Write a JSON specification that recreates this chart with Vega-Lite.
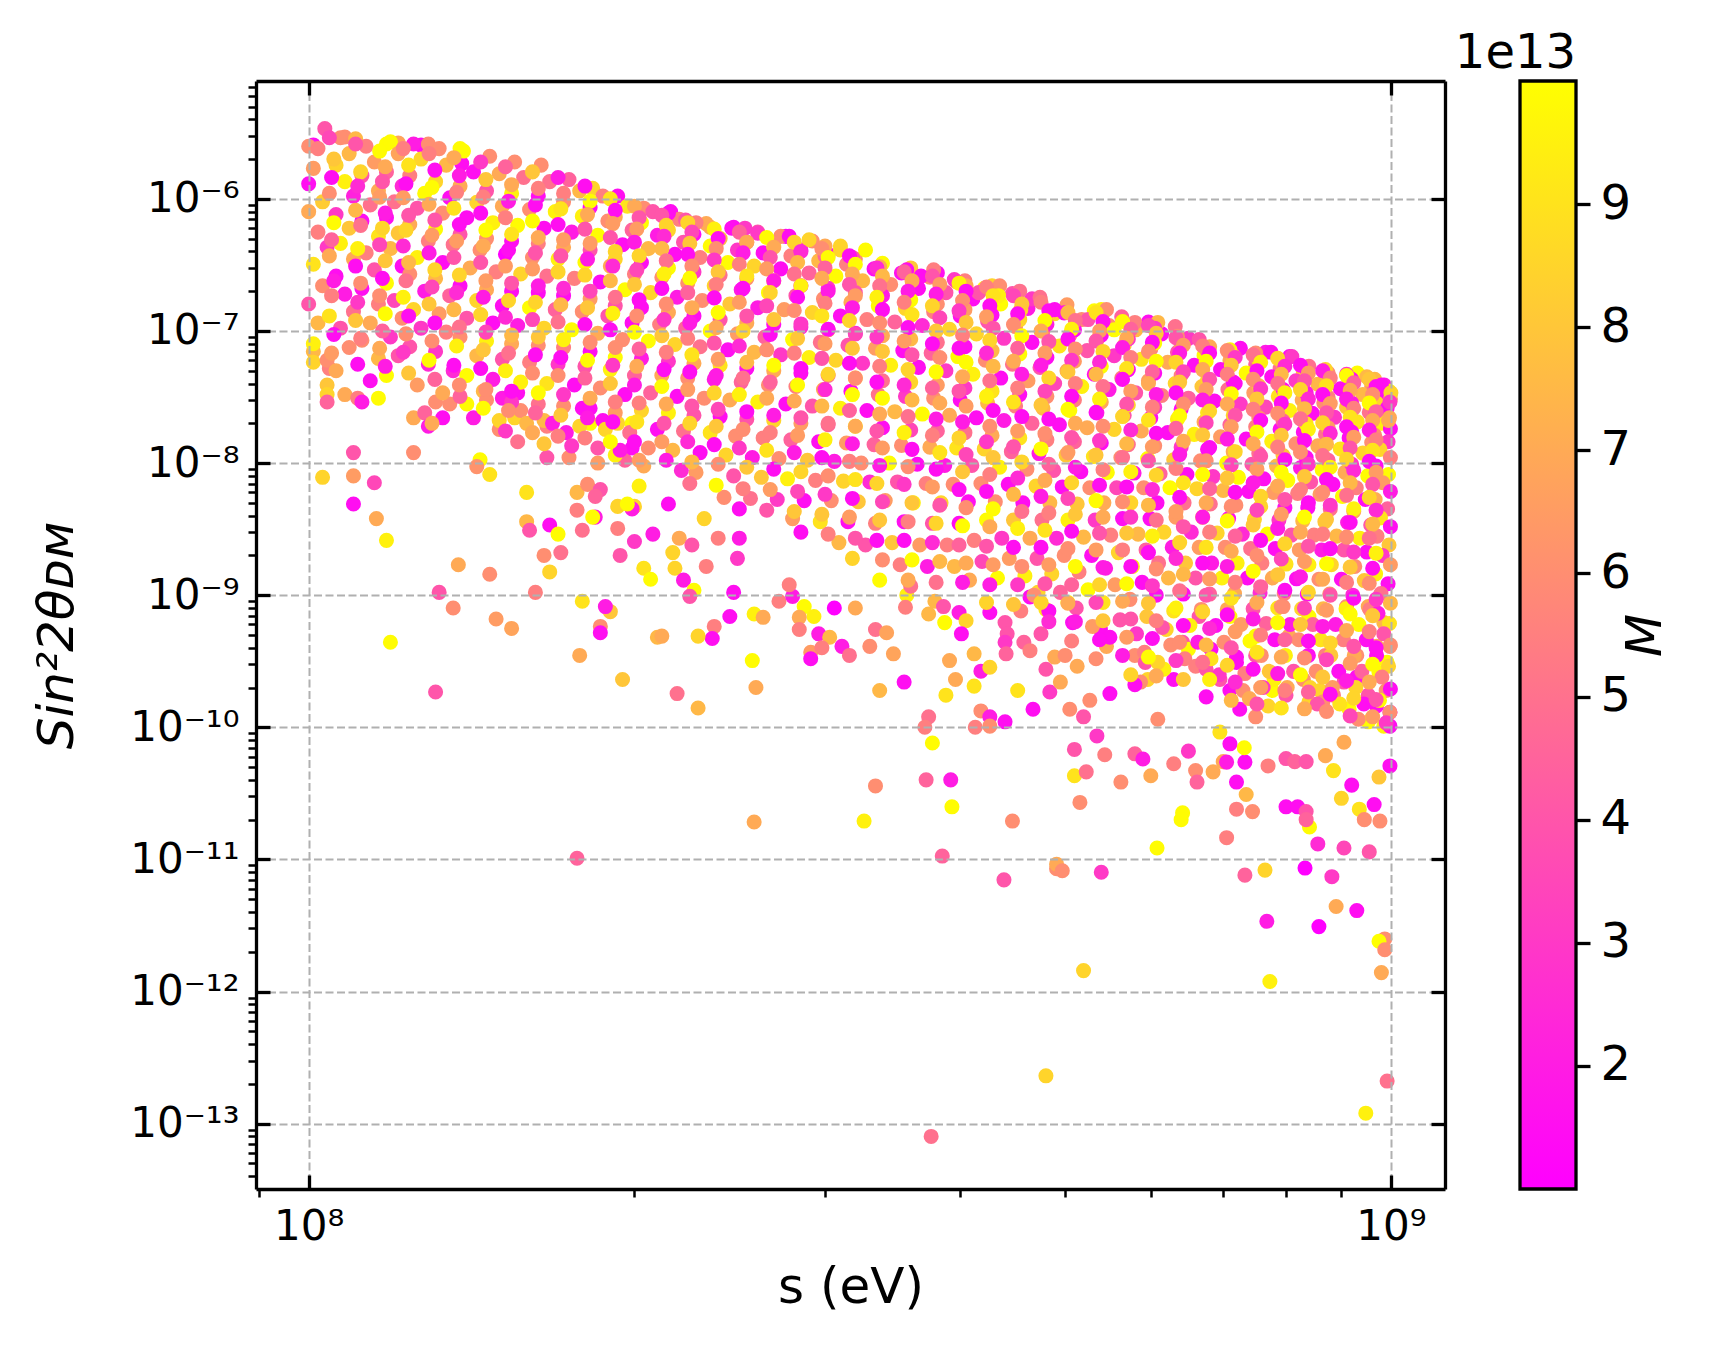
{
  "$schema": "https://vega.github.io/schema/vega-lite/v6.json",
  "background": "white",
  "padding": {"left": 32, "top": 30, "right": 5, "bottom": 5},
  "bounds": "flush",
  "spacing": 75,
  "data": {"values": [
    {"s":1.03e8,"t":7.8e-9,"M":8.5e13},{"s":1.1e8,"t":8e-9,"M":6.5e13},{"s":1.15e8,"t":7.1e-9,"M":3.5e13},{"s":1.1e8,"t":4.9e-9,"M":1.5e13},
    {"s":1.155e8,"t":3.8e-9,"M":7e13},{"s":1.18e8,"t":2.6e-9,"M":9.5e13},{"s":1.375e8,"t":1.7e-9,"M":7e13},{"s":1.47e8,"t":1.44e-9,"M":6e13},
    {"s":1.32e8,"t":1.05e-9,"M":4e13},{"s":1.62e8,"t":1.05e-9,"M":5.5e13},{"s":1.36e8,"t":8e-10,"M":6e13},{"s":1.49e8,"t":6.6e-10,"M":6.5e13},
    {"s":1.54e8,"t":5.6e-10,"M":6.8e13},{"s":1.19e8,"t":4.4e-10,"M":9.9e13},{"s":1.31e8,"t":1.85e-10,"M":4e13},{"s":1.79e8,"t":9e-10,"M":9e13},
    {"s":1.9e8,"t":7.5e-10,"M":8e13},{"s":1.88e8,"t":8.2e-10,"M":2e13},{"s":1.86e8,"t":5.8e-10,"M":6e13},{"s":1.86e8,"t":5.2e-10,"M":1.5e13},
    {"s":1.78e8,"t":3.5e-10,"M":7e13},{"s":1.95e8,"t":2.3e-10,"M":8e13},{"s":2.1e8,"t":4.8e-10,"M":7.5e13},{"s":1.44e8,"t":1.06e-8,"M":9.9e13},
    {"s":1.43e8,"t":9.4e-9,"M":6.2e13},{"s":1.47e8,"t":8.2e-9,"M":9e13},{"s":1.59e8,"t":6e-9,"M":9e13},{"s":1.59e8,"t":3.6e-9,"M":7.5e13},
    {"s":1.6e8,"t":3.1e-9,"M":4e13},{"s":1.67e8,"t":3.4e-9,"M":1.5e13},{"s":1.7e8,"t":2.9e-9,"M":9.9e13},{"s":1.65e8,"t":2e-9,"M":6e13},
    {"s":1.71e8,"t":2.1e-9,"M":5e13},{"s":1.67e8,"t":1.5e-9,"M":8.5e13},{"s":1.77e8,"t":6e-9,"M":7.5e13},{"s":1.81e8,"t":6.9e-9,"M":6e13},
    {"s":1.86e8,"t":6.3e-9,"M":4e13},{"s":1.84e8,"t":5.6e-9,"M":4.5e13},{"s":1.77e8,"t":4.4e-9,"M":5.5e13},{"s":1.84e8,"t":3.9e-9,"M":2e13},
    {"s":1.83e8,"t":3.9e-9,"M":9.9e13},{"s":1.79e8,"t":3.1e-9,"M":5e13},{"s":1.93e8,"t":3.2e-9,"M":5.5e13},{"s":1.94e8,"t":2e-9,"M":4e13},
    {"s":2e8,"t":2.55e-9,"M":3e13},{"s":1.93e8,"t":4.7e-9,"M":8.5e13},{"s":2e8,"t":4.7e-9,"M":8.5e13},{"s":1.99e8,"t":4.5e-9,"M":2e13},
    {"s":1.97e8,"t":4.9e-9,"M":9.9e13},{"s":2.02e8,"t":6.7e-9,"M":9.5e13},{"s":2.04e8,"t":1.6e-9,"M":9e13},{"s":2.07e8,"t":1.32e-9,"M":9.9e13},
    {"s":2.08e8,"t":2.9e-9,"M":2e13},{"s":1.74e8,"t":1.1e-8,"M":6e13},{"s":1.66e8,"t":1.1e-8,"M":4e13},{"s":1.85e8,"t":1e-8,"M":6.5e13},
    {"s":1.96e8,"t":1.05e-8,"M":4.5e13},{"s":1.92e8,"t":1.15e-8,"M":9.5e13},{"s":1.1e8,"t":1.2e-8,"M":4e13},{"s":1.25e8,"t":1.2e-8,"M":6e13},
    {"s":1.77e8,"t":1.02e-11,"M":4.5e13},
    {"s":2.15e8,"t":4.9e-9,"M":1.5e13},{"s":2.32e8,"t":3.8e-9,"M":8.5e13},{"s":2.2e8,"t":2.7e-9,"M":7e13},{"s":2.26e8,"t":2.4e-9,"M":4e13},
    {"s":2.17e8,"t":2.1e-9,"M":8.5e13},{"s":2.18e8,"t":1.6e-9,"M":8.5e13},{"s":2.33e8,"t":1.65e-9,"M":5.5e13},{"s":2.22e8,"t":1.3e-9,"M":2e13},
    {"s":2.27e8,"t":1.09e-9,"M":9.9e13},{"s":2.25e8,"t":9.8e-10,"M":4e13},{"s":2.39e8,"t":2.7e-9,"M":5.5e13},{"s":2.5e8,"t":2.7e-9,"M":2e13},
    {"s":2.49e8,"t":1.9e-9,"M":3e13},{"s":2.47e8,"t":1.05e-9,"M":1.5e13},{"s":2.45e8,"t":6.9e-10,"M":1.5e13},{"s":2.37e8,"t":5.8e-10,"M":5.5e13},
    {"s":2.36e8,"t":4.7e-10,"M":1.5e13},{"s":2.29e8,"t":4.9e-10,"M":8.5e13},{"s":2.12e8,"t":4.9e-10,"M":7e13},{"s":2.58e8,"t":7.2e-10,"M":9.5e13},
    {"s":2.63e8,"t":6.8e-10,"M":7e13},{"s":2.57e8,"t":3.2e-10,"M":9.9e13},{"s":2.59e8,"t":2e-10,"M":7e13},{"s":2.19e8,"t":1.8e-10,"M":5e13},
    {"s":2.29e8,"t":1.4e-10,"M":7.5e13},{"s":2.72e8,"t":9e-10,"M":5.5e13},{"s":2.8e8,"t":9.8e-10,"M":2e13},{"s":2.78e8,"t":1.2e-9,"M":5.5e13},
    {"s":2.87e8,"t":8.2e-10,"M":9.9e13},{"s":2.93e8,"t":6.9e-10,"M":9.5e13},{"s":2.84e8,"t":6.8e-10,"M":7e13},{"s":2.84e8,"t":5.5e-10,"M":5.5e13},
    {"s":3.06e8,"t":8e-10,"M":1e13},{"s":2.96e8,"t":5.1e-10,"M":2e13},{"s":3.03e8,"t":4.8e-10,"M":7.5e13},{"s":2.91e8,"t":3.7e-10,"M":6.5e13},
    {"s":2.91e8,"t":3.3e-10,"M":1.5e13},{"s":2.98e8,"t":4e-10,"M":5.5e13},{"s":3.11e8,"t":4.1e-10,"M":2e13},{"s":3.16e8,"t":3.5e-10,"M":5e13},
    {"s":3.2e8,"t":8e-10,"M":7e13},{"s":3.34e8,"t":5.5e-10,"M":5e13},{"s":3.3e8,"t":4.1e-10,"M":6e13},{"s":3.42e8,"t":5.2e-10,"M":6.8e13},
    {"s":3.47e8,"t":3.6e-10,"M":6.8e13},{"s":3.37e8,"t":1.9e-10,"M":7.5e13},{"s":3.55e8,"t":2.2e-10,"M":1.5e13},{"s":3.57e8,"t":1e-9,"M":9.5e13},
    {"s":3.6e8,"t":1.17e-9,"M":5e13},{"s":3.56e8,"t":8.1e-10,"M":5.5e13},{"s":3.74e8,"t":7.2e-10,"M":7.5e13},{"s":3.79e8,"t":9e-10,"M":7.5e13},
    {"s":3.87e8,"t":6.2e-10,"M":9.9e13},{"s":3.86e8,"t":8.2e-10,"M":4e13},{"s":3.99e8,"t":7.4e-10,"M":2e13},{"s":4.05e8,"t":6.4e-10,"M":8.5e13},
    {"s":4.01e8,"t":5.1e-10,"M":1.5e13},{"s":3.91e8,"t":3.2e-10,"M":7e13},{"s":3.96e8,"t":2.3e-10,"M":7e13},{"s":4.12e8,"t":3.6e-10,"M":7.5e13},
    {"s":4.18e8,"t":2.66e-10,"M":2e13},{"s":4.26e8,"t":2.85e-10,"M":8.5e13},{"s":3.88e8,"t":1.75e-10,"M":9e13},{"s":4.12e8,"t":2.05e-10,"M":9e13},
    {"s":3.74e8,"t":1.2e-10,"M":5e13},{"s":3.71e8,"t":1e-10,"M":5.5e13},{"s":3.77e8,"t":7.6e-11,"M":9.9e13},{"s":3.72e8,"t":4e-11,"M":4.5e13},
    {"s":3.92e8,"t":4e-11,"M":2e13},{"s":3.93e8,"t":2.5e-11,"M":9.9e13},{"s":3.34e8,"t":3.6e-11,"M":6e13},{"s":4.18e8,"t":1.33e-10,"M":6e13},
    {"s":4.26e8,"t":1.2e-10,"M":2e13},{"s":4.4e8,"t":1.1e-10,"M":1.5e13},{"s":4.13e8,"t":1e-10,"M":5.5e13},{"s":4.26e8,"t":1.02e-10,"M":6e13},
    {"s":4.26e8,"t":7.4e-10,"M":1.5e13},{"s":4.4e8,"t":6.2e-10,"M":4e13},{"s":4.42e8,"t":5.1e-10,"M":4e13},{"s":4.4e8,"t":4.4e-10,"M":3e13},
    {"s":4.41e8,"t":3.6e-10,"M":4.5e13},{"s":4.58e8,"t":4.4e-10,"M":4.5e13},{"s":4.64e8,"t":3.8e-10,"M":5.5e13},{"s":4.55e8,"t":7.6e-10,"M":5.5e13},
    {"s":4.75e8,"t":5.1e-10,"M":4e13},{"s":4.8e8,"t":7.8e-10,"M":9e13},{"s":4.72e8,"t":1.05e-9,"M":8.5e13},{"s":4.64e8,"t":9.7e-10,"M":1.5e13},
    {"s":4.8e8,"t":2.75e-10,"M":4e13},{"s":4.89e8,"t":3.4e-10,"M":7e13},{"s":4.52e8,"t":1.9e-10,"M":9e13},{"s":4.67e8,"t":1.37e-10,"M":1.5e13},
    {"s":4.84e8,"t":1.85e-10,"M":3e13},{"s":4.47e8,"t":1.95e-11,"M":6e13},{"s":3.26e8,"t":1.95e-11,"M":9.5e13},{"s":2.58e8,"t":1.92e-11,"M":7e13},
    {"s":3.85e8,"t":1.06e-11,"M":4.5e13},{"s":4.39e8,"t":7e-12,"M":4e13},{"s":4.91e8,"t":8.5e-12,"M":6e13},{"s":4.91e8,"t":9.2e-12,"M":7e13},
    {"s":4.8e8,"t":2.3e-13,"M":8.5e13},{"s":3.76e8,"t":8e-14,"M":5e13},
    {"s":5.35e8,"t":8.6e-11,"M":3e13},{"s":5.1e8,"t":6.8e-11,"M":4e13},{"s":5.44e8,"t":6.2e-11,"M":5.5e13},{"s":5.1e8,"t":4.3e-11,"M":9e13},
    {"s":5.23e8,"t":4.6e-11,"M":5e13},{"s":5.63e8,"t":3.85e-11,"M":6e13},{"s":5.16e8,"t":2.7e-11,"M":6e13},{"s":5.8e8,"t":6.3e-11,"M":4.5e13},
    {"s":5.9e8,"t":5.75e-11,"M":2e13},{"s":6e8,"t":4.3e-11,"M":7e13},{"s":6.09e8,"t":1.15e-10,"M":6e13},{"s":6.3e8,"t":5.3e-11,"M":5.5e13},
    {"s":6.5e8,"t":6.6e-11,"M":3e13},{"s":6.6e8,"t":4.7e-11,"M":6e13},{"s":6.62e8,"t":3.85e-11,"M":4.5e13},{"s":6.85e8,"t":4.6e-11,"M":7e13},
    {"s":7e8,"t":5.5e-11,"M":7e13},{"s":7.05e8,"t":5.45e-11,"M":2e13},{"s":6.42e8,"t":2.25e-11,"M":9.9e13},{"s":7.2e8,"t":3.85e-11,"M":1.5e13},
    {"s":7.35e8,"t":3.1e-11,"M":7.5e13},{"s":7.33e8,"t":5.45e-11,"M":1.5e13},{"s":7.32e8,"t":7e-11,"M":9.9e13},{"s":7.1e8,"t":7.5e-11,"M":1.5e13},
    {"s":6.95e8,"t":9.2e-11,"M":9e13},{"s":7.2e8,"t":2.4e-11,"M":5.5e13},{"s":7.45e8,"t":2.3e-11,"M":6e13},{"s":7.7e8,"t":5.1e-11,"M":5.5e13},
    {"s":8e8,"t":5.8e-11,"M":4e13},{"s":8.15e8,"t":5.5e-11,"M":4.5e13},{"s":8.35e8,"t":5.5e-11,"M":4e13},{"s":8e8,"t":2.5e-11,"M":1.5e13},
    {"s":8.2e8,"t":2.5e-11,"M":1.5e13},{"s":8.35e8,"t":2.3e-11,"M":4e13},{"s":8.7e8,"t":6.1e-11,"M":7e13},{"s":8.85e8,"t":4.7e-11,"M":9e13},
    {"s":9e8,"t":2.9e-11,"M":8.5e13},{"s":9.2e8,"t":3.65e-11,"M":1.5e13},{"s":9.35e8,"t":2.4e-11,"M":9e13},{"s":9.65e8,"t":2.6e-11,"M":1.5e13},
    {"s":9.75e8,"t":4.2e-11,"M":8e13},{"s":9.98e8,"t":5.1e-11,"M":1.5e13},{"s":9.05e8,"t":7.7e-11,"M":7e13},{"s":9.85e8,"t":1.02e-10,"M":9.5e13},
    {"s":6.4e8,"t":2e-11,"M":9.9e13},{"s":7.05e8,"t":1.46e-11,"M":5.5e13},{"s":6.08e8,"t":1.22e-11,"M":9.9e13},{"s":4.97e8,"t":8.2e-12,"M":6e13},
    {"s":5.4e8,"t":8e-12,"M":3e13},{"s":7.33e8,"t":7.6e-12,"M":4.5e13},{"s":7.65e8,"t":8.3e-12,"M":8.5e13},{"s":8.33e8,"t":8.6e-12,"M":1e13},
    {"s":8.82e8,"t":7.4e-12,"M":3e13},{"s":8.41e8,"t":1.76e-11,"M":9.9e13},{"s":8.56e8,"t":1.31e-11,"M":2.5e13},{"s":9.05e8,"t":1.22e-11,"M":3.5e13},
    {"s":9.55e8,"t":1.14e-11,"M":4e13},{"s":9.45e8,"t":2e-11,"M":6e13},{"s":9.77e8,"t":1.95e-11,"M":6e13},{"s":8.35e8,"t":2e-11,"M":4.5e13},
    {"s":8.9e8,"t":4.4e-12,"M":7e13},{"s":9.3e8,"t":4.1e-12,"M":1.5e13},{"s":7.68e8,"t":3.4e-12,"M":2e13},{"s":8.58e8,"t":3.1e-12,"M":1e13},
    {"s":9.87e8,"t":2.5e-12,"M":6e13},{"s":9.75e8,"t":2.4e-12,"M":1e14},{"s":9.87e8,"t":2.07e-12,"M":6e13},{"s":9.8e8,"t":1.39e-12,"M":7e13},
    {"s":5.2e8,"t":1.44e-12,"M":8.5e13},{"s":7.73e8,"t":1.19e-12,"M":9.5e13},{"s":9.92e8,"t":2.1e-13,"M":5e13},{"s":9.48e8,"t":1.2e-13,"M":9.5e13},
    {"s":5.03e8,"t":8.8e-10,"M":9.9e13},{"s":5.08e8,"t":6.2e-10,"M":1.5e13},{"s":5.39e8,"t":5.5e-10,"M":1.5e13},{"s":5.46e8,"t":4.1e-10,"M":7e13},
    {"s":5.8e8,"t":3.5e-10,"M":6e13},{"s":5.93e8,"t":3.1e-10,"M":4e13},{"s":6.2e8,"t":5.5e-10,"M":8.5e13},{"s":6.42e8,"t":4.4e-10,"M":4e13},
    {"s":6.5e8,"t":3.9e-10,"M":9.9e13},{"s":6.6e8,"t":2.9e-10,"M":5.5e13},{"s":6.75e8,"t":2.75e-10,"M":4e13},{"s":6.3e8,"t":2.3e-10,"M":1.5e13},
    {"s":6.17e8,"t":2.75e-10,"M":9.5e13},{"s":5.96e8,"t":2.3e-10,"M":8.5e13},{"s":5.87e8,"t":2.2e-10,"M":6e13},{"s":5.8e8,"t":2.1e-10,"M":1.5e13},
    {"s":5.5e8,"t":1.8e-10,"M":1.5e13},{"s":5.27e8,"t":1.6e-10,"M":6e13},{"s":5.05e8,"t":1.37e-10,"M":6e13},{"s":5.2e8,"t":1.2e-10,"M":4e13},
    {"s":4.95e8,"t":2.2e-10,"M":7e13},{"s":5e8,"t":3.5e-10,"M":6e13},{"s":5.13e8,"t":2.9e-10,"M":7e13},{"s":6.82e8,"t":3.9e-10,"M":1.5e13},
    {"s":6.95e8,"t":2.3e-10,"M":4e13},{"s":7.1e8,"t":1.9e-10,"M":1.5e13},{"s":7.3e8,"t":1.9e-10,"M":6e13},{"s":7.25e8,"t":1.37e-10,"M":1.5e13},
    {"s":7.4e8,"t":1.65e-10,"M":7e13},{"s":7.5e8,"t":1.2e-10,"M":6e13},{"s":7.7e8,"t":1.45e-10,"M":8.5e13},{"s":7.77e8,"t":1.9e-10,"M":9.9e13},
    {"s":7.8e8,"t":2.3e-10,"M":9.5e13},{"s":8e8,"t":1.75e-10,"M":4e13},{"s":8.3e8,"t":2.3e-10,"M":6e13},{"s":8.4e8,"t":1.55e-10,"M":8.5e13},
    {"s":8.6e8,"t":1.9e-10,"M":8.5e13},{"s":8.65e8,"t":1.55e-10,"M":6e13},{"s":8.85e8,"t":1.75e-10,"M":5.5e13},{"s":9.05e8,"t":2.2e-10,"M":4e13},
    {"s":9.15e8,"t":1.37e-10,"M":9.9e13},{"s":9.3e8,"t":2.4e-10,"M":1.5e13},{"s":9.53e8,"t":1.75e-10,"M":4e13},{"s":9.7e8,"t":1.45e-10,"M":1.5e13},
    {"s":9.75e8,"t":2.6e-10,"M":9.9e13},{"s":9.9e8,"t":1.9e-10,"M":6e13},{"s":9.98e8,"t":1.3e-10,"M":1.5e13},{"s":9.98e8,"t":1.02e-10,"M":1.5e13},
    {"s":9.53e8,"t":1.1e-10,"M":9.9e13},{"s":9.3e8,"t":3.5e-10,"M":6e13},{"s":8.7e8,"t":3.5e-10,"M":5.5e13},{"s":8.05e8,"t":4.9e-10,"M":7e13},
    {"s":7.5e8,"t":4.9e-10,"M":9.9e13},{"s":7.2e8,"t":3.1e-10,"M":1.5e13},{"s":7.5e8,"t":3.5e-10,"M":4e13},{"s":7.1e8,"t":6.9e-10,"M":9.9e13},
    {"s":6.65e8,"t":6.9e-10,"M":4e13},{"s":7.95e8,"t":8.2e-10,"M":6e13},{"s":8.4e8,"t":6.9e-10,"M":9.9e13},{"s":9.1e8,"t":8.2e-10,"M":6e13},
    {"s":9.53e8,"t":8.2e-10,"M":7e13},{"s":9.85e8,"t":6.2e-10,"M":7.5e13},{"s":9.7e8,"t":4.1e-10,"M":7e13},{"s":9.98e8,"t":4.1e-10,"M":6e13},
    {"s":9.92e8,"t":3.1e-10,"M":9.9e13},
    {"s":1.01e8,"t":7e-8,"M":7.5e13},{"s":1.01e8,"t":5.8e-8,"M":8.5e13},{"s":1.045e8,"t":5.2e-8,"M":5.5e13},{"s":1.04e8,"t":3.9e-8,"M":8e13},
    {"s":1.04e8,"t":3.3e-8,"M":8.5e13},{"s":1.04e8,"t":2.9e-8,"M":4.5e13},{"s":1.08e8,"t":3.3e-8,"M":7e13},{"s":1.11e8,"t":3.1e-8,"M":5.5e13},
    {"s":1.12e8,"t":2.9e-8,"M":2e13},{"s":1.16e8,"t":3.1e-8,"M":9.9e13},{"s":1.25e8,"t":2.2e-8,"M":7e13},{"s":1.28e8,"t":2.4e-8,"M":4.5e13},
    {"s":1.29e8,"t":1.9e-8,"M":2e13},{"s":1.31e8,"t":2.9e-8,"M":6e13},{"s":1.35e8,"t":2.8e-8,"M":6e13},{"s":1.33e8,"t":2.2e-8,"M":1.5e13},
    {"s":1.3e8,"t":2e-8,"M":7e13},{"s":1.4e8,"t":2.8e-8,"M":9.9e13},{"s":1.45e8,"t":3.5e-8,"M":7.5e13},{"s":1.5e8,"t":1.8e-8,"M":6e13},
    {"s":1.51e8,"t":3.1e-8,"M":2e13},{"s":1.55e8,"t":2.2e-8,"M":8.5e13},{"s":1.57e8,"t":2.5e-8,"M":6e13},{"s":1.56e8,"t":3.4e-8,"M":1.5e13},
    {"s":1.66e8,"t":1.9e-8,"M":5.5e13},{"s":1.65e8,"t":2.1e-8,"M":7.5e13},{"s":1.73e8,"t":1.7e-8,"M":2e13},{"s":1.79e8,"t":2.6e-8,"M":1.5e13},
    {"s":1.82e8,"t":2e-8,"M":9.9e13},{"s":1.87e8,"t":2.1e-8,"M":1.5e13},{"s":1.93e8,"t":2e-8,"M":8.5e13},{"s":1.99e8,"t":2e-8,"M":9.9e13},
    {"s":1.99e8,"t":1.3e-8,"M":1.5e13},
    {"s":1.035e8,"t":3.4e-6,"M":4e13},{"s":1.01e8,"t":2.56e-6,"M":1.5e13},{"s":1e8,"t":2.5e-6,"M":6e13},{"s":1.08e8,"t":2.94e-6,"M":6e13},
    {"s":1.105e8,"t":2.85e-6,"M":7.5e13},{"s":1.18e8,"t":2.6e-6,"M":9.9e13},{"s":1.21e8,"t":2.65e-6,"M":6.8e13},{"s":1.27e8,"t":2.55e-6,"M":1.5e13},
    {"s":1.29e8,"t":2.6e-6,"M":6e13},{"s":1.38e8,"t":2.4e-6,"M":9.9e13},{"s":1.385e8,"t":1.85e-6,"M":1.5e13},
    {"s":1e8,"t":1.3e-6,"M":1.5e13},{"s":1.02e8,"t":2.4e-6,"M":5.5e13},{"s":1.01e8,"t":1.7e-6,"M":6.5e13},{"s":1.03e8,"t":9.5e-7,"M":8.2e13},
    {"s":1e8,"t":8e-7,"M":7e13},{"s":1.02e8,"t":5.6e-7,"M":5.5e13},{"s":1.04e8,"t":4.3e-7,"M":3e13},{"s":1.01e8,"t":3.2e-7,"M":9e13},
    {"s":1.03e8,"t":2.2e-7,"M":6e13},{"s":1e8,"t":1.6e-7,"M":4e13},{"s":1.02e8,"t":1.15e-7,"M":7.5e13},{"s":1.01e8,"t":8e-8,"M":9.5e13},
    {"s":1.04e8,"t":6e-8,"M":6e13},
    {"s":1.07e8,"t":2.9e-6,"M":6e13},{"s":1.09e8,"t":2.2e-6,"M":7.5e13},{"s":1.06e8,"t":1.8e-6,"M":8.5e13},{"s":1.08e8,"t":1.35e-6,"M":9.5e13},
    {"s":1.1e8,"t":1.05e-6,"M":2.2e13},{"s":1.06e8,"t":7.6e-7,"M":3e13},{"s":1.09e8,"t":6e-7,"M":8e13},{"s":1.07e8,"t":4.6e-7,"M":9.5e13},
    {"s":1.1e8,"t":3.5e-7,"M":7e13},{"s":1.06e8,"t":2.6e-7,"M":1.5e13},{"s":1.08e8,"t":1.9e-7,"M":2e13},{"s":1.1e8,"t":1.4e-7,"M":5e13},
    {"s":1.07e8,"t":1.05e-7,"M":4e13},{"s":1.09e8,"t":7.5e-8,"M":6e13},{"s":1.06e8,"t":5e-8,"M":7e13},
    {"s":1.13e8,"t":2.5e-6,"M":5.5e13},{"s":1.15e8,"t":1.9e-6,"M":6.5e13},{"s":1.12e8,"t":1.5e-6,"M":4e13},{"s":1.16e8,"t":1.15e-6,"M":7e13},
    {"s":1.14e8,"t":9e-7,"M":5e13},{"s":1.12e8,"t":6.8e-7,"M":1.5e13},{"s":1.16e8,"t":5.2e-7,"M":9e13},{"s":1.13e8,"t":3.9e-7,"M":5.5e13},
    {"s":1.15e8,"t":2.9e-7,"M":4e13},{"s":1.12e8,"t":2.1e-7,"M":1.5e13},{"s":1.16e8,"t":1.6e-7,"M":5.5e13},{"s":1.14e8,"t":1.15e-7,"M":7e13},
    {"s":1.12e8,"t":8.5e-8,"M":6e13},{"s":1.16e8,"t":6.2e-8,"M":7.5e13},{"s":1.14e8,"t":4.2e-8,"M":1.5e13},
    {"s":1.19e8,"t":2.7e-6,"M":9.9e13},{"s":1.21e8,"t":2.2e-6,"M":6.8e13},{"s":1.18e8,"t":1.6e-6,"M":4.5e13},{"s":1.22e8,"t":1.25e-6,"M":2.5e13},
    {"s":1.2e8,"t":9.5e-7,"M":5e13},{"s":1.18e8,"t":7.2e-7,"M":1.5e13},{"s":1.21e8,"t":5.5e-7,"M":8e13},{"s":1.19e8,"t":4.2e-7,"M":7.5e13},
    {"s":1.22e8,"t":3.1e-7,"M":1.5e13},{"s":1.18e8,"t":2.3e-7,"M":9.9e13},{"s":1.2e8,"t":1.7e-7,"M":3.5e13},{"s":1.22e8,"t":1.25e-7,"M":6e13},
    {"s":1.19e8,"t":9e-8,"M":3e13},{"s":1.21e8,"t":6.5e-8,"M":4e13},{"s":1.18e8,"t":4.6e-8,"M":9.9e13},
    {"s":1.25e8,"t":2.6e-6,"M":2e13},{"s":1.27e8,"t":2e-6,"M":8.5e13},{"s":1.24e8,"t":1.5e-6,"M":5.5e13},{"s":1.28e8,"t":1.1e-6,"M":9.9e13},
    {"s":1.26e8,"t":8.5e-7,"M":4e13},{"s":1.24e8,"t":6.4e-7,"M":7e13},{"s":1.29e8,"t":4.8e-7,"M":5.5e13},{"s":1.26e8,"t":3.6e-7,"M":9.5e13},
    {"s":1.24e8,"t":2.7e-7,"M":6e13},{"s":1.28e8,"t":2e-7,"M":2e13},{"s":1.25e8,"t":1.45e-7,"M":8.5e13},{"s":1.27e8,"t":1.05e-7,"M":3e13},
    {"s":1.24e8,"t":7.6e-8,"M":4e13},{"s":1.29e8,"t":5.6e-8,"M":2.5e13},{"s":1.26e8,"t":3.9e-8,"M":6.5e13},
    {"s":1.32e8,"t":2.4e-6,"M":6e13},{"s":1.34e8,"t":1.8e-6,"M":7.5e13},{"s":1.31e8,"t":1.35e-6,"M":8.5e13},{"s":1.35e8,"t":1.02e-6,"M":1.5e13},
    {"s":1.33e8,"t":7.8e-7,"M":6e13},{"s":1.31e8,"t":5.9e-7,"M":9.9e13},{"s":1.36e8,"t":4.5e-7,"M":5e13},{"s":1.33e8,"t":3.3e-7,"M":1.5e13},
    {"s":1.31e8,"t":2.5e-7,"M":7.5e13},{"s":1.35e8,"t":1.85e-7,"M":4.5e13},{"s":1.32e8,"t":1.35e-7,"M":6.5e13},{"s":1.34e8,"t":9.8e-8,"M":5.5e13},
    {"s":1.31e8,"t":7e-8,"M":3e13},{"s":1.36e8,"t":5e-8,"M":2.5e13},{"s":1.33e8,"t":3.4e-8,"M":7e13},
    {"s":1.39e8,"t":2.3e-6,"M":9.9e13},{"s":1.42e8,"t":1.6e-6,"M":1.5e13},{"s":1.38e8,"t":1.25e-6,"M":7e13},{"s":1.43e8,"t":9.4e-7,"M":8.5e13},
    {"s":1.4e8,"t":7.2e-7,"M":1.5e13},{"s":1.38e8,"t":5.4e-7,"M":4e13},{"s":1.44e8,"t":4.1e-7,"M":6e13},{"s":1.41e8,"t":3e-7,"M":7e13},
    {"s":1.38e8,"t":2.2e-7,"M":1.5e13},{"s":1.43e8,"t":1.7e-7,"M":8.5e13},{"s":1.4e8,"t":1.25e-7,"M":4e13},{"s":1.38e8,"t":9e-8,"M":6e13},
    {"s":1.43e8,"t":6.5e-8,"M":7.5e13},{"s":1.4e8,"t":4.6e-8,"M":9.9e13},{"s":1.38e8,"t":3.2e-8,"M":4.5e13},{"s":1.42e8,"t":2.2e-8,"M":2e13},
    {"s":1.47e8,"t":2.1e-6,"M":6e13},{"s":1.5e8,"t":1.55e-6,"M":7e13},{"s":1.46e8,"t":1.15e-6,"M":4e13},{"s":1.51e8,"t":8.8e-7,"M":7e13},
    {"s":1.48e8,"t":6.6e-7,"M":9.5e13},{"s":1.46e8,"t":5e-7,"M":6e13},{"s":1.52e8,"t":3.8e-7,"M":1e13},{"s":1.49e8,"t":2.8e-7,"M":5.5e13},
    {"s":1.46e8,"t":2.05e-7,"M":7e13},{"s":1.51e8,"t":1.55e-7,"M":1.5e13},{"s":1.48e8,"t":1.15e-7,"M":1.5e13},{"s":1.46e8,"t":8.4e-8,"M":9.5e13},
    {"s":1.51e8,"t":6.1e-8,"M":4e13},{"s":1.48e8,"t":4.3e-8,"M":2e13},{"s":1.46e8,"t":3e-8,"M":6e13},{"s":1.5e8,"t":2.1e-8,"M":8.5e13},
    {"s":1.55e8,"t":1.9e-6,"M":6e13},{"s":1.58e8,"t":1.45e-6,"M":5e13},{"s":1.54e8,"t":1.1e-6,"M":9.5e13},{"s":1.6e8,"t":8.3e-7,"M":6e13},
    {"s":1.56e8,"t":6.3e-7,"M":9.9e13},{"s":1.54e8,"t":4.8e-7,"M":1.5e13},{"s":1.61e8,"t":3.6e-7,"M":6e13},{"s":1.57e8,"t":2.7e-7,"M":8.5e13},
    {"s":1.54e8,"t":2e-7,"M":1.5e13},{"s":1.6e8,"t":1.5e-7,"M":9.9e13},{"s":1.56e8,"t":1.1e-7,"M":2e13},{"s":1.54e8,"t":8e-8,"M":7e13},
    {"s":1.6e8,"t":5.8e-8,"M":5.5e13},{"s":1.57e8,"t":4.1e-8,"M":9.5e13},{"s":1.54e8,"t":2.9e-8,"M":3e13},{"s":1.59e8,"t":2e-8,"M":7.5e13},
    {"s":1.56e8,"t":1.45e-8,"M":5e13},
    {"s":1.64e8,"t":1.8e-6,"M":6e13},{"s":1.67e8,"t":1.35e-6,"M":5e13},{"s":1.63e8,"t":1.05e-6,"M":1.5e13},{"s":1.69e8,"t":8e-7,"M":9.5e13},
    {"s":1.65e8,"t":6e-7,"M":1.5e13},{"s":1.63e8,"t":4.6e-7,"M":5.5e13},{"s":1.7e8,"t":3.5e-7,"M":9.5e13},{"s":1.66e8,"t":2.6e-7,"M":5e13},
    {"s":1.63e8,"t":1.95e-7,"M":1.5e13},{"s":1.69e8,"t":1.45e-7,"M":4.5e13},{"s":1.65e8,"t":1.05e-7,"M":8.5e13},{"s":1.63e8,"t":7.8e-8,"M":6e13},
    {"s":1.7e8,"t":5.6e-8,"M":3e13},{"s":1.66e8,"t":4e-8,"M":9e13},{"s":1.63e8,"t":2.8e-8,"M":5e13},{"s":1.68e8,"t":2e-8,"M":2e13},
    {"s":1.65e8,"t":1.4e-8,"M":8e13},
    {"s":1.74e8,"t":1.4e-6,"M":4.5e13},{"s":1.78e8,"t":1.15e-6,"M":7.5e13},{"s":1.72e8,"t":9.5e-7,"M":6e13},{"s":1.79e8,"t":7.4e-7,"M":9.5e13},
    {"s":1.75e8,"t":5.6e-7,"M":2e13},{"s":1.72e8,"t":4.3e-7,"M":7e13},{"s":1.8e8,"t":3.3e-7,"M":9.9e13},{"s":1.76e8,"t":2.5e-7,"M":5.5e13},
    {"s":1.72e8,"t":1.85e-7,"M":1.5e13},{"s":1.79e8,"t":1.4e-7,"M":6e13},{"s":1.75e8,"t":1.02e-7,"M":9.9e13},{"s":1.72e8,"t":7.5e-8,"M":5.5e13},
    {"s":1.8e8,"t":5.4e-8,"M":4e13},{"s":1.76e8,"t":3.9e-8,"M":1.5e13},{"s":1.72e8,"t":2.7e-8,"M":6e13},{"s":1.78e8,"t":1.9e-8,"M":8.5e13},
    {"s":1.75e8,"t":1.35e-8,"M":3e13},
    {"s":1.83e8,"t":1.2e-6,"M":8.5e13},{"s":1.87e8,"t":1.05e-6,"M":5.5e13},{"s":1.82e8,"t":8.6e-7,"M":1.5e13},{"s":1.89e8,"t":6.8e-7,"M":6e13},
    {"s":1.85e8,"t":5.3e-7,"M":9.9e13},{"s":1.82e8,"t":4.1e-7,"M":4e13},{"s":1.9e8,"t":3.1e-7,"M":7e13},{"s":1.86e8,"t":2.35e-7,"M":1.5e13},
    {"s":1.82e8,"t":1.75e-7,"M":6.5e13},{"s":1.89e8,"t":1.3e-7,"M":4e13},{"s":1.85e8,"t":9.6e-8,"M":7e13},{"s":1.82e8,"t":7e-8,"M":1.5e13},
    {"s":1.9e8,"t":5.1e-8,"M":9.5e13},{"s":1.86e8,"t":3.7e-8,"M":6e13},{"s":1.82e8,"t":2.6e-8,"M":1.5e13},{"s":1.88e8,"t":1.8e-8,"M":8.5e13},
    {"s":1.85e8,"t":1.3e-8,"M":4e13},
    {"s":1.93e8,"t":1.05e-6,"M":1.5e13},{"s":1.97e8,"t":8.8e-7,"M":9e13},{"s":1.92e8,"t":7.3e-7,"M":7e13},{"s":1.99e8,"t":5.8e-7,"M":4.5e13},
    {"s":1.95e8,"t":4.5e-7,"M":1.5e13},{"s":1.92e8,"t":3.5e-7,"M":8.5e13},{"s":2e8,"t":2.7e-7,"M":5.5e13},{"s":1.96e8,"t":2.05e-7,"M":9.9e13},
    {"s":1.92e8,"t":1.55e-7,"M":4e13},{"s":1.99e8,"t":1.15e-7,"M":1.5e13},{"s":1.95e8,"t":8.6e-8,"M":6e13},{"s":1.92e8,"t":6.3e-8,"M":9.9e13},
    {"s":2e8,"t":4.6e-8,"M":4.5e13},{"s":1.96e8,"t":3.3e-8,"M":1.5e13},{"s":1.92e8,"t":2.4e-8,"M":6.5e13},{"s":1.98e8,"t":1.7e-8,"M":5e13},
    {"s":1.94e8,"t":1.25e-8,"M":2e13},
    {"s":2.04e8,"t":8.5e-7,"M":6e13},{"s":2.08e8,"t":8e-7,"M":4e13},{"s":2.03e8,"t":6.6e-7,"M":9.9e13},{"s":2.1e8,"t":5.3e-7,"M":2e13},
    {"s":2.06e8,"t":4.2e-7,"M":7.5e13},{"s":2.03e8,"t":3.3e-7,"M":1.5e13},{"s":2.12e8,"t":2.55e-7,"M":6e13},{"s":2.07e8,"t":1.95e-7,"M":8.5e13},
    {"s":2.03e8,"t":1.5e-7,"M":1.5e13},{"s":2.11e8,"t":1.12e-7,"M":5.5e13},{"s":2.06e8,"t":8.4e-8,"M":9.9e13},{"s":2.03e8,"t":6.2e-8,"M":2e13},
    {"s":2.12e8,"t":4.6e-8,"M":7e13},{"s":2.07e8,"t":3.4e-8,"M":4.5e13},{"s":2.03e8,"t":2.5e-8,"M":8.5e13},{"s":2.1e8,"t":1.8e-8,"M":1.5e13},
    {"s":2.06e8,"t":1.3e-8,"M":6e13},{"s":2.04e8,"t":9.5e-9,"M":7e13},
    {"s":2.16e8,"t":8e-7,"M":1.5e13},{"s":2.2e8,"t":7e-7,"M":5.5e13},{"s":2.15e8,"t":5.8e-7,"M":8.5e13},{"s":2.22e8,"t":4.7e-7,"M":4e13},
    {"s":2.18e8,"t":3.8e-7,"M":1.5e13},{"s":2.15e8,"t":3e-7,"M":9.9e13},{"s":2.24e8,"t":2.3e-7,"M":6e13},{"s":2.19e8,"t":1.8e-7,"M":2e13},
    {"s":2.15e8,"t":1.38e-7,"M":7e13},{"s":2.23e8,"t":1.05e-7,"M":4.5e13},{"s":2.18e8,"t":7.9e-8,"M":8.5e13},{"s":2.15e8,"t":5.9e-8,"M":3e13},
    {"s":2.24e8,"t":4.4e-8,"M":6e13},{"s":2.19e8,"t":3.2e-8,"M":1.5e13},{"s":2.15e8,"t":2.4e-8,"M":9.5e13},{"s":2.22e8,"t":1.75e-8,"M":5e13},
    {"s":2.17e8,"t":1.25e-8,"M":7.5e13},{"s":2.21e8,"t":8.8e-9,"M":2.5e13},
    {"s":2.33e8,"t":6.5e-7,"M":7e13},{"s":2.27e8,"t":5.4e-7,"M":1.5e13},{"s":2.35e8,"t":4.4e-7,"M":9.9e13},{"s":2.3e8,"t":3.6e-7,"M":5.5e13},
    {"s":2.27e8,"t":2.8e-7,"M":3e13},{"s":2.37e8,"t":2.2e-7,"M":8.5e13},{"s":2.31e8,"t":1.7e-7,"M":6e13},{"s":2.27e8,"t":1.3e-7,"M":1.5e13},
    {"s":2.35e8,"t":1e-7,"M":9.9e13},{"s":2.3e8,"t":7.6e-8,"M":5e13},{"s":2.27e8,"t":5.7e-8,"M":7e13},{"s":2.37e8,"t":4.3e-8,"M":2e13},
    {"s":2.32e8,"t":3.1e-8,"M":6e13},{"s":2.27e8,"t":2.3e-8,"M":4e13},{"s":2.35e8,"t":1.7e-8,"M":9e13},{"s":2.3e8,"t":1.2e-8,"M":1.5e13},
    {"s":2.28e8,"t":8.5e-9,"M":6.5e13},
    {"s":2.46e8,"t":6e-7,"M":1.5e13},{"s":2.4e8,"t":5e-7,"M":7.5e13},{"s":2.49e8,"t":4.1e-7,"M":3e13},{"s":2.44e8,"t":3.3e-7,"M":9.9e13},
    {"s":2.4e8,"t":2.65e-7,"M":5e13},{"s":2.51e8,"t":2.05e-7,"M":2e13},{"s":2.45e8,"t":1.6e-7,"M":8e13},{"s":2.4e8,"t":1.22e-7,"M":4e13},
    {"s":2.49e8,"t":9.5e-8,"M":6.5e13},{"s":2.44e8,"t":7.2e-8,"M":1.5e13},{"s":2.4e8,"t":5.5e-8,"M":9e13},{"s":2.51e8,"t":4.1e-8,"M":4.5e13},
    {"s":2.45e8,"t":3e-8,"M":7e13},{"s":2.4e8,"t":2.25e-8,"M":1.5e13},{"s":2.48e8,"t":1.6e-8,"M":6e13},{"s":2.43e8,"t":1.15e-8,"M":8.5e13},
    {"s":2.47e8,"t":8e-9,"M":4e13},{"s":2.42e8,"t":5.5e-9,"M":6e13},
    {"s":2.6e8,"t":5.6e-7,"M":4e13},{"s":2.54e8,"t":4.7e-7,"M":5.5e13},{"s":2.63e8,"t":3.9e-7,"M":1.5e13},{"s":2.58e8,"t":3.1e-7,"M":8.5e13},
    {"s":2.54e8,"t":2.5e-7,"M":6e13},{"s":2.66e8,"t":1.95e-7,"M":9.9e13},{"s":2.6e8,"t":1.5e-7,"M":2e13},{"s":2.54e8,"t":1.15e-7,"M":7e13},
    {"s":2.64e8,"t":9e-8,"M":4.5e13},{"s":2.58e8,"t":6.9e-8,"M":7.5e13},{"s":2.54e8,"t":5.2e-8,"M":1.5e13},{"s":2.66e8,"t":3.9e-8,"M":6e13},
    {"s":2.6e8,"t":2.9e-8,"M":9.5e13},{"s":2.54e8,"t":2.15e-8,"M":4e13},{"s":2.63e8,"t":1.55e-8,"M":5.5e13},{"s":2.57e8,"t":1.1e-8,"M":2e13},
    {"s":2.62e8,"t":7.8e-9,"M":8e13},{"s":2.56e8,"t":5.4e-9,"M":5e13},
    {"s":2.76e8,"t":5.2e-7,"M":1.5e13},{"s":2.69e8,"t":4.4e-7,"M":9.9e13},{"s":2.79e8,"t":3.7e-7,"M":5.5e13},{"s":2.73e8,"t":2.95e-7,"M":1.5e13},
    {"s":2.69e8,"t":2.4e-7,"M":8.5e13},{"s":2.82e8,"t":1.85e-7,"M":4e13},{"s":2.75e8,"t":1.45e-7,"M":6.5e13},{"s":2.69e8,"t":1.12e-7,"M":1.5e13},
    {"s":2.8e8,"t":8.6e-8,"M":9.9e13},{"s":2.73e8,"t":6.6e-8,"M":3e13},{"s":2.69e8,"t":5e-8,"M":7e13},{"s":2.82e8,"t":3.8e-8,"M":5.5e13},
    {"s":2.76e8,"t":2.8e-8,"M":1.5e13},{"s":2.69e8,"t":2.1e-8,"M":8.5e13},{"s":2.79e8,"t":1.5e-8,"M":4.5e13},{"s":2.72e8,"t":1.08e-8,"M":6e13},
    {"s":2.77e8,"t":7.6e-9,"M":9.5e13},{"s":2.71e8,"t":5.3e-9,"M":3e13},{"s":2.8e8,"t":3.8e-9,"M":6.5e13},
    {"s":2.92e8,"t":4.8e-7,"M":6e13},{"s":2.85e8,"t":4.1e-7,"M":2e13},{"s":2.96e8,"t":3.4e-7,"M":7.5e13},{"s":2.9e8,"t":2.75e-7,"M":4.5e13},
    {"s":2.85e8,"t":2.2e-7,"M":1.5e13},{"s":2.99e8,"t":1.75e-7,"M":6e13},{"s":2.92e8,"t":1.38e-7,"M":8.5e13},{"s":2.85e8,"t":1.07e-7,"M":2.5e13},
    {"s":2.97e8,"t":8.2e-8,"M":5e13},{"s":2.9e8,"t":6.3e-8,"M":9.5e13},{"s":2.85e8,"t":4.8e-8,"M":1.5e13},{"s":2.99e8,"t":3.6e-8,"M":7e13},
    {"s":2.92e8,"t":2.7e-8,"M":4e13},{"s":2.85e8,"t":2e-8,"M":6.5e13},{"s":2.96e8,"t":1.45e-8,"M":1.5e13},{"s":2.89e8,"t":1.05e-8,"M":8e13},
    {"s":2.94e8,"t":7.4e-9,"M":5.5e13},{"s":2.87e8,"t":5.2e-9,"M":1.5e13},{"s":2.97e8,"t":3.6e-9,"M":9e13},
    {"s":3.1e8,"t":4.4e-7,"M":8.5e13},{"s":3.02e8,"t":3.8e-7,"M":1.5e13},{"s":3.14e8,"t":3.2e-7,"M":5.5e13},{"s":3.07e8,"t":2.6e-7,"M":9.9e13},
    {"s":3.02e8,"t":2.1e-7,"M":3e13},{"s":3.17e8,"t":1.65e-7,"M":7e13},{"s":3.1e8,"t":1.3e-7,"M":1.5e13},{"s":3.02e8,"t":1.02e-7,"M":6e13},
    {"s":3.15e8,"t":7.8e-8,"M":4e13},{"s":3.07e8,"t":6e-8,"M":8.5e13},{"s":3.02e8,"t":4.6e-8,"M":5e13},{"s":3.17e8,"t":3.5e-8,"M":1.5e13},
    {"s":3.1e8,"t":2.6e-8,"M":9.5e13},{"s":3.02e8,"t":1.95e-8,"M":4.5e13},{"s":3.14e8,"t":1.42e-8,"M":6.5e13},{"s":3.06e8,"t":1.03e-8,"M":2e13},
    {"s":3.12e8,"t":7.3e-9,"M":8.5e13},{"s":3.04e8,"t":5.2e-9,"M":6e13},{"s":3.15e8,"t":3.6e-9,"M":1.5e13},{"s":3.09e8,"t":2.5e-9,"M":7.5e13},
    {"s":3.2e8,"t":3.5e-7,"M":6e13},{"s":3.33e8,"t":2.95e-7,"M":1.5e13},{"s":3.25e8,"t":2.4e-7,"M":7.5e13},{"s":3.2e8,"t":1.95e-7,"M":4e13},
    {"s":3.36e8,"t":1.55e-7,"M":9.9e13},{"s":3.28e8,"t":1.22e-7,"M":5.5e13},{"s":3.2e8,"t":9.6e-8,"M":1.5e13},{"s":3.34e8,"t":7.4e-8,"M":6.5e13},
    {"s":3.25e8,"t":5.7e-8,"M":3e13},{"s":3.2e8,"t":4.4e-8,"M":8.5e13},{"s":3.36e8,"t":3.3e-8,"M":5e13},{"s":3.28e8,"t":2.5e-8,"M":1.5e13},
    {"s":3.2e8,"t":1.9e-8,"M":9.9e13},{"s":3.33e8,"t":1.38e-8,"M":4.5e13},{"s":3.24e8,"t":1e-8,"M":6e13},{"s":3.3e8,"t":7.2e-9,"M":2.5e13},
    {"s":3.22e8,"t":5.1e-9,"M":8e13},{"s":3.34e8,"t":3.5e-9,"M":5.5e13},{"s":3.27e8,"t":2.4e-9,"M":4e13},
    {"s":3.39e8,"t":3.25e-7,"M":9.9e13},{"s":3.53e8,"t":2.75e-7,"M":1.5e13},{"s":3.45e8,"t":2.25e-7,"M":6e13},{"s":3.39e8,"t":1.85e-7,"M":2e13},
    {"s":3.56e8,"t":1.48e-7,"M":8.5e13},{"s":3.48e8,"t":1.17e-7,"M":4.5e13},{"s":3.39e8,"t":9.2e-8,"M":7e13},{"s":3.54e8,"t":7.1e-8,"M":1.5e13},
    {"s":3.45e8,"t":5.5e-8,"M":9.5e13},{"s":3.39e8,"t":4.2e-8,"M":5e13},{"s":3.56e8,"t":3.2e-8,"M":3e13},{"s":3.48e8,"t":2.45e-8,"M":7.5e13},
    {"s":3.39e8,"t":1.85e-8,"M":1.5e13},{"s":3.53e8,"t":1.36e-8,"M":6e13},{"s":3.44e8,"t":1e-8,"M":9.9e13},{"s":3.5e8,"t":7.2e-9,"M":4e13},
    {"s":3.41e8,"t":5.2e-9,"M":6.5e13},{"s":3.55e8,"t":3.6e-9,"M":1.5e13},{"s":3.46e8,"t":2.5e-9,"M":8e13},{"s":3.52e8,"t":1.7e-9,"M":5.5e13},
    {"s":3.6e8,"t":3e-7,"M":8e13},{"s":3.75e8,"t":2.55e-7,"M":6e13},{"s":3.66e8,"t":2.1e-7,"M":1.5e13},{"s":3.6e8,"t":1.72e-7,"M":9.9e13},
    {"s":3.78e8,"t":1.4e-7,"M":5.5e13},{"s":3.69e8,"t":1.1e-7,"M":2.5e13},{"s":3.6e8,"t":8.7e-8,"M":7.5e13},{"s":3.76e8,"t":6.8e-8,"M":4.5e13},
    {"s":3.66e8,"t":5.3e-8,"M":1.5e13},{"s":3.6e8,"t":4.1e-8,"M":8.5e13},{"s":3.78e8,"t":3.1e-8,"M":6e13},{"s":3.69e8,"t":2.35e-8,"M":9.9e13},
    {"s":3.6e8,"t":1.78e-8,"M":3.5e13},{"s":3.75e8,"t":1.32e-8,"M":7e13},{"s":3.65e8,"t":9.8e-9,"M":1.5e13},{"s":3.72e8,"t":7e-9,"M":5.5e13},
    {"s":3.62e8,"t":5e-9,"M":9.5e13},{"s":3.77e8,"t":3.5e-9,"M":4e13},{"s":3.67e8,"t":2.4e-9,"M":6.5e13},{"s":3.73e8,"t":1.65e-9,"M":2e13},
    {"s":3.81e8,"t":2.75e-7,"M":1.5e13},{"s":3.97e8,"t":2.35e-7,"M":7.5e13},{"s":3.88e8,"t":1.95e-7,"M":4e13},{"s":3.81e8,"t":1.6e-7,"M":6e13},
    {"s":4e8,"t":1.3e-7,"M":1.5e13},{"s":3.91e8,"t":1.03e-7,"M":8.5e13},{"s":3.81e8,"t":8.2e-8,"M":5e13},{"s":3.98e8,"t":6.4e-8,"M":9.9e13},
    {"s":3.88e8,"t":5e-8,"M":3e13},{"s":3.81e8,"t":3.9e-8,"M":6.5e13},{"s":4e8,"t":3e-8,"M":1.5e13},{"s":3.91e8,"t":2.3e-8,"M":7e13},
    {"s":3.81e8,"t":1.75e-8,"M":4.5e13},{"s":3.97e8,"t":1.3e-8,"M":9e13},{"s":3.87e8,"t":9.6e-9,"M":2e13},{"s":3.94e8,"t":6.9e-9,"M":6e13},
    {"s":3.84e8,"t":5e-9,"M":8.5e13},{"s":3.99e8,"t":3.5e-9,"M":1.5e13},{"s":3.89e8,"t":2.4e-9,"M":5.5e13},{"s":3.95e8,"t":1.65e-9,"M":7.5e13},
    {"s":4.04e8,"t":2.4e-7,"M":5.5e13},{"s":4.21e8,"t":2.1e-7,"M":9.9e13},{"s":4.11e8,"t":1.75e-7,"M":1.5e13},{"s":4.04e8,"t":1.45e-7,"M":6.5e13},
    {"s":4.24e8,"t":1.18e-7,"M":4e13},{"s":4.14e8,"t":9.5e-8,"M":8.5e13},{"s":4.04e8,"t":7.6e-8,"M":1.5e13},{"s":4.22e8,"t":6e-8,"M":6e13},
    {"s":4.11e8,"t":4.7e-8,"M":9.5e13},{"s":4.04e8,"t":3.7e-8,"M":3e13},{"s":4.24e8,"t":2.85e-8,"M":7.5e13},{"s":4.14e8,"t":2.2e-8,"M":1.5e13},
    {"s":4.04e8,"t":1.7e-8,"M":5e13},{"s":4.21e8,"t":1.28e-8,"M":8.5e13},{"s":4.1e8,"t":9.6e-9,"M":4e13},{"s":4.18e8,"t":7e-9,"M":6e13},
    {"s":4.07e8,"t":5.1e-9,"M":1.5e13},{"s":4.23e8,"t":3.7e-9,"M":9.9e13},{"s":4.12e8,"t":2.6e-9,"M":5.5e13},{"s":4.19e8,"t":1.8e-9,"M":3.5e13},
    {"s":4.08e8,"t":1.3e-9,"M":7e13},
    {"s":4.28e8,"t":2.2e-7,"M":8.5e13},{"s":4.47e8,"t":1.92e-7,"M":4e13},{"s":4.36e8,"t":1.6e-7,"M":9.9e13},{"s":4.28e8,"t":1.32e-7,"M":1.5e13},
    {"s":4.5e8,"t":1.08e-7,"M":6e13},{"s":4.39e8,"t":8.8e-8,"M":3e13},{"s":4.28e8,"t":7.1e-8,"M":7.5e13},{"s":4.47e8,"t":5.6e-8,"M":5e13},
    {"s":4.36e8,"t":4.4e-8,"M":1.5e13},{"s":4.28e8,"t":3.5e-8,"M":9e13},{"s":4.5e8,"t":2.7e-8,"M":5.5e13},{"s":4.39e8,"t":2.1e-8,"M":2e13},
    {"s":4.28e8,"t":1.62e-8,"M":7e13},{"s":4.46e8,"t":1.22e-8,"M":4.5e13},{"s":4.35e8,"t":9.3e-9,"M":9.5e13},{"s":4.43e8,"t":6.9e-9,"M":1.5e13},
    {"s":4.31e8,"t":5.1e-9,"M":6e13},{"s":4.48e8,"t":3.7e-9,"M":8e13},{"s":4.37e8,"t":2.7e-9,"M":3e13},{"s":4.44e8,"t":1.9e-9,"M":6.5e13},
    {"s":4.33e8,"t":1.35e-9,"M":9.9e13},
    {"s":4.54e8,"t":2e-7,"M":5e13},{"s":4.74e8,"t":1.75e-7,"M":7e13},{"s":4.62e8,"t":1.48e-7,"M":2e13},{"s":4.54e8,"t":1.22e-7,"M":8.5e13},
    {"s":4.77e8,"t":1e-7,"M":5.5e13},{"s":4.66e8,"t":8.2e-8,"M":1.5e13},{"s":4.54e8,"t":6.7e-8,"M":9.9e13},{"s":4.74e8,"t":5.3e-8,"M":4e13},
    {"s":4.62e8,"t":4.2e-8,"M":6.5e13},{"s":4.54e8,"t":3.3e-8,"M":1.5e13},{"s":4.77e8,"t":2.6e-8,"M":7.5e13},{"s":4.66e8,"t":2e-8,"M":4.5e13},
    {"s":4.54e8,"t":1.55e-8,"M":9e13},{"s":4.73e8,"t":1.18e-8,"M":2e13},{"s":4.61e8,"t":9e-9,"M":6e13},{"s":4.7e8,"t":6.7e-9,"M":8.5e13},
    {"s":4.57e8,"t":5e-9,"M":1.5e13},{"s":4.76e8,"t":3.7e-9,"M":5e13},{"s":4.64e8,"t":2.7e-9,"M":7e13},{"s":4.71e8,"t":1.9e-9,"M":4e13},
    {"s":4.59e8,"t":1.4e-9,"M":9.5e13},{"s":4.68e8,"t":1e-9,"M":6e13},
    {"s":5.02e8,"t":1.58e-7,"M":6.5e13},{"s":4.89e8,"t":1.35e-7,"M":8.5e13},{"s":4.81e8,"t":1.12e-7,"M":2e13},{"s":5.05e8,"t":9.3e-8,"M":5.5e13},
    {"s":4.94e8,"t":7.7e-8,"M":9e13},{"s":4.81e8,"t":6.3e-8,"M":1.5e13},{"s":5.02e8,"t":5e-8,"M":7e13},{"s":4.89e8,"t":4e-8,"M":3.5e13},
    {"s":4.81e8,"t":3.2e-8,"M":6e13},{"s":5.05e8,"t":2.5e-8,"M":9.9e13},{"s":4.94e8,"t":1.95e-8,"M":1.5e13},{"s":4.81e8,"t":1.5e-8,"M":5.5e13},
    {"s":5.01e8,"t":1.15e-8,"M":8e13},{"s":4.88e8,"t":8.8e-9,"M":4e13},{"s":4.97e8,"t":6.6e-9,"M":1.5e13},{"s":4.84e8,"t":5e-9,"M":7.5e13},
    {"s":5.03e8,"t":3.7e-9,"M":9.5e13},{"s":4.91e8,"t":2.7e-9,"M":2.5e13},{"s":4.99e8,"t":2e-9,"M":6e13},{"s":4.86e8,"t":1.45e-9,"M":8.5e13},
    {"s":4.95e8,"t":1.05e-9,"M":4.5e13},{"s":4.83e8,"t":7.6e-10,"M":1.5e13},
    {"s":5.32e8,"t":1.42e-7,"M":9.9e13},{"s":5.18e8,"t":1.22e-7,"M":6e13},{"s":5.1e8,"t":1.02e-7,"M":1.5e13},{"s":5.35e8,"t":8.5e-8,"M":8.5e13},
    {"s":5.24e8,"t":7.1e-8,"M":4e13},{"s":5.1e8,"t":5.9e-8,"M":6.5e13},{"s":5.32e8,"t":4.7e-8,"M":1.5e13},{"s":5.18e8,"t":3.8e-8,"M":9.5e13},
    {"s":5.1e8,"t":3e-8,"M":5.5e13},{"s":5.35e8,"t":2.4e-8,"M":2e13},{"s":5.24e8,"t":1.85e-8,"M":7e13},{"s":5.1e8,"t":1.45e-8,"M":4.5e13},
    {"s":5.31e8,"t":1.12e-8,"M":9e13},{"s":5.17e8,"t":8.6e-9,"M":1.5e13},{"s":5.27e8,"t":6.5e-9,"M":6e13},{"s":5.13e8,"t":4.9e-9,"M":8e13},
    {"s":5.33e8,"t":3.7e-9,"M":3e13},{"s":5.2e8,"t":2.75e-9,"M":7.5e13},{"s":5.29e8,"t":2e-9,"M":1.5e13},{"s":5.15e8,"t":1.5e-9,"M":5.5e13},
    {"s":5.25e8,"t":1.1e-9,"M":9.9e13},{"s":5.12e8,"t":8e-10,"M":4e13},{"s":5.3e8,"t":5.8e-10,"M":6.5e13},
    {"s":5.4e8,"t":1.45e-7,"M":9.5e13},{"s":5.64e8,"t":1.28e-7,"M":4.5e13},{"s":5.49e8,"t":1.1e-7,"M":6e13},{"s":5.4e8,"t":9.3e-8,"M":1.5e13},
    {"s":5.67e8,"t":7.8e-8,"M":8e13},{"s":5.55e8,"t":6.5e-8,"M":3e13},{"s":5.4e8,"t":5.4e-8,"M":9.9e13},{"s":5.64e8,"t":4.4e-8,"M":5.5e13},
    {"s":5.49e8,"t":3.6e-8,"M":2e13},{"s":5.4e8,"t":2.9e-8,"M":7e13},{"s":5.67e8,"t":2.3e-8,"M":4e13},{"s":5.55e8,"t":1.8e-8,"M":8.5e13},
    {"s":5.4e8,"t":1.42e-8,"M":1.5e13},{"s":5.63e8,"t":1.1e-8,"M":6e13},{"s":5.47e8,"t":8.5e-9,"M":9.9e13},{"s":5.58e8,"t":6.5e-9,"M":3.5e13},
    {"s":5.43e8,"t":5e-9,"M":7e13},{"s":5.65e8,"t":3.8e-9,"M":1.5e13},{"s":5.51e8,"t":2.85e-9,"M":5.5e13},{"s":5.6e8,"t":2.1e-9,"M":8.5e13},
    {"s":5.45e8,"t":1.6e-9,"M":2e13},{"s":5.56e8,"t":1.2e-9,"M":6.5e13},{"s":5.42e8,"t":8.8e-10,"M":9e13},{"s":5.62e8,"t":6.5e-10,"M":4e13},
    {"s":5.5e8,"t":4.8e-10,"M":1.5e13},
    {"s":5.97e8,"t":1.17e-7,"M":1.5e13},{"s":5.81e8,"t":1.02e-7,"M":7.5e13},{"s":5.72e8,"t":8.7e-8,"M":3e13},{"s":6e8,"t":7.3e-8,"M":5.5e13},
    {"s":5.88e8,"t":6.1e-8,"M":9e13},{"s":5.72e8,"t":5.1e-8,"M":1.5e13},{"s":5.97e8,"t":4.2e-8,"M":6.5e13},{"s":5.81e8,"t":3.4e-8,"M":4e13},
    {"s":5.72e8,"t":2.75e-8,"M":8.5e13},{"s":6e8,"t":2.2e-8,"M":1.5e13},{"s":5.88e8,"t":1.75e-8,"M":7e13},{"s":5.72e8,"t":1.38e-8,"M":5e13},
    {"s":5.96e8,"t":1.08e-8,"M":9.9e13},{"s":5.79e8,"t":8.4e-9,"M":2e13},{"s":5.91e8,"t":6.5e-9,"M":6e13},{"s":5.75e8,"t":5e-9,"M":8.5e13},
    {"s":5.99e8,"t":3.8e-9,"M":1.5e13},{"s":5.84e8,"t":2.9e-9,"M":7.5e13},{"s":5.94e8,"t":2.2e-9,"M":4.5e13},{"s":5.77e8,"t":1.65e-9,"M":9.5e13},
    {"s":5.89e8,"t":1.25e-9,"M":1.5e13},{"s":5.74e8,"t":9.3e-10,"M":6e13},{"s":5.95e8,"t":6.9e-10,"M":8e13},{"s":5.82e8,"t":5.1e-10,"M":3e13},
    {"s":5.92e8,"t":3.7e-10,"M":5.5e13},
    {"s":6.32e8,"t":1.08e-7,"M":5e13},{"s":6.14e8,"t":9.5e-8,"M":1.5e13},{"s":6.05e8,"t":8.1e-8,"M":9.9e13},{"s":6.35e8,"t":6.9e-8,"M":4e13},
    {"s":6.22e8,"t":5.8e-8,"M":7e13},{"s":6.05e8,"t":4.8e-8,"M":1.5e13},{"s":6.32e8,"t":4e-8,"M":8.5e13},{"s":6.14e8,"t":3.25e-8,"M":5.5e13},
    {"s":6.05e8,"t":2.65e-8,"M":3e13},{"s":6.35e8,"t":2.15e-8,"M":9.5e13},{"s":6.22e8,"t":1.7e-8,"M":1.5e13},{"s":6.05e8,"t":1.35e-8,"M":6e13},
    {"s":6.3e8,"t":1.06e-8,"M":8e13},{"s":6.12e8,"t":8.3e-9,"M":4.5e13},{"s":6.25e8,"t":6.5e-9,"M":9.9e13},{"s":6.08e8,"t":5e-9,"M":1.5e13},
    {"s":6.33e8,"t":3.9e-9,"M":6.5e13},{"s":6.17e8,"t":3e-9,"M":8.5e13},{"s":6.28e8,"t":2.3e-9,"M":2e13},{"s":6.1e8,"t":1.75e-9,"M":5e13},
    {"s":6.23e8,"t":1.35e-9,"M":7.5e13},{"s":6.07e8,"t":1e-9,"M":1.5e13},{"s":6.3e8,"t":7.6e-10,"M":9e13},{"s":6.15e8,"t":5.7e-10,"M":4e13},
    {"s":6.26e8,"t":4.2e-10,"M":6e13},{"s":6.09e8,"t":3.1e-10,"M":8.5e13},
    {"s":6.5e8,"t":8.8e-8,"M":3e13},{"s":6.4e8,"t":7.6e-8,"M":6e13},{"s":6.72e8,"t":6.5e-8,"M":9.9e13},{"s":6.58e8,"t":5.5e-8,"M":1.5e13},
    {"s":6.4e8,"t":4.6e-8,"M":5.5e13},{"s":6.69e8,"t":3.8e-8,"M":8e13},{"s":6.5e8,"t":3.1e-8,"M":4.5e13},{"s":6.4e8,"t":2.55e-8,"M":1.5e13},
    {"s":6.72e8,"t":2.05e-8,"M":7e13},{"s":6.58e8,"t":1.65e-8,"M":9.5e13},{"s":6.4e8,"t":1.32e-8,"M":3e13},{"s":6.67e8,"t":1.04e-8,"M":6e13},
    {"s":6.48e8,"t":8.2e-9,"M":1.5e13},{"s":6.62e8,"t":6.4e-9,"M":8.5e13},{"s":6.44e8,"t":5e-9,"M":5e13},{"s":6.7e8,"t":3.9e-9,"M":9.9e13},
    {"s":6.54e8,"t":3e-9,"M":2.5e13},{"s":6.65e8,"t":2.3e-9,"M":6.5e13},{"s":6.46e8,"t":1.75e-9,"M":8e13},{"s":6.6e8,"t":1.35e-9,"M":4e13},
    {"s":6.43e8,"t":1.02e-9,"M":1.5e13},{"s":6.68e8,"t":7.8e-10,"M":6e13},{"s":6.52e8,"t":5.9e-10,"M":9.5e13},{"s":6.63e8,"t":4.4e-10,"M":2e13},
    {"s":6.45e8,"t":3.3e-10,"M":5.5e13},
    {"s":6.77e8,"t":7e-8,"M":4e13},{"s":7.1e8,"t":6e-8,"M":7e13},{"s":6.96e8,"t":5.1e-8,"M":1.5e13},{"s":6.77e8,"t":4.3e-8,"M":8.5e13},
    {"s":7.07e8,"t":3.6e-8,"M":5e13},{"s":6.87e8,"t":2.95e-8,"M":1.5e13},{"s":6.77e8,"t":2.4e-8,"M":9e13},{"s":7.1e8,"t":1.95e-8,"M":4.5e13},
    {"s":6.96e8,"t":1.58e-8,"M":6.5e13},{"s":6.77e8,"t":1.27e-8,"M":1.5e13},{"s":7.05e8,"t":1e-8,"M":9.9e13},{"s":6.85e8,"t":7.9e-9,"M":3e13},
    {"s":7e8,"t":6.2e-9,"M":7.5e13},{"s":6.81e8,"t":4.9e-9,"M":5e13},{"s":7.08e8,"t":3.8e-9,"M":1.5e13},{"s":6.91e8,"t":2.95e-9,"M":8.5e13},
    {"s":7.03e8,"t":2.3e-9,"M":6e13},{"s":6.83e8,"t":1.75e-9,"M":2e13},{"s":6.98e8,"t":1.35e-9,"M":9.5e13},{"s":6.8e8,"t":1.02e-9,"M":4.5e13},
    {"s":7.06e8,"t":7.8e-10,"M":7e13},{"s":6.89e8,"t":5.9e-10,"M":1.5e13},{"s":7.01e8,"t":4.4e-10,"M":6e13},{"s":6.82e8,"t":3.3e-10,"M":9e13},
    {"s":6.94e8,"t":2.5e-10,"M":3e13},
    {"s":7.26e8,"t":7.4e-8,"M":1.5e13},{"s":7.15e8,"t":6.5e-8,"M":8e13},{"s":7.5e8,"t":5.6e-8,"M":4.5e13},{"s":7.35e8,"t":4.8e-8,"M":9.9e13},
    {"s":7.15e8,"t":4.1e-8,"M":1.5e13},{"s":7.47e8,"t":3.4e-8,"M":6.5e13},{"s":7.26e8,"t":2.8e-8,"M":3e13},{"s":7.15e8,"t":2.3e-8,"M":8.5e13},
    {"s":7.5e8,"t":1.88e-8,"M":5.5e13},{"s":7.35e8,"t":1.52e-8,"M":1.5e13},{"s":7.15e8,"t":1.22e-8,"M":7e13},{"s":7.44e8,"t":9.8e-9,"M":4e13},
    {"s":7.23e8,"t":7.8e-9,"M":9.9e13},{"s":7.39e8,"t":6.1e-9,"M":1.5e13},{"s":7.19e8,"t":4.8e-9,"M":6e13},{"s":7.48e8,"t":3.75e-9,"M":8.5e13},
    {"s":7.29e8,"t":2.9e-9,"M":2.5e13},{"s":7.42e8,"t":2.25e-9,"M":5e13},{"s":7.21e8,"t":1.75e-9,"M":9.5e13},{"s":7.37e8,"t":1.35e-9,"M":1.5e13},
    {"s":7.17e8,"t":1.03e-9,"M":7e13},{"s":7.46e8,"t":7.9e-10,"M":4e13},{"s":7.27e8,"t":6e-10,"M":6.5e13},{"s":7.41e8,"t":4.5e-10,"M":9.9e13},
    {"s":7.2e8,"t":3.4e-10,"M":1.5e13},{"s":7.33e8,"t":2.55e-10,"M":5.5e13},
    {"s":7.66e8,"t":6.9e-8,"M":2e13},{"s":7.55e8,"t":6e-8,"M":8.5e13},{"s":7.9e8,"t":5.2e-8,"M":5e13},{"s":7.76e8,"t":4.5e-8,"M":1.5e13},
    {"s":7.55e8,"t":3.85e-8,"M":7.5e13},{"s":7.87e8,"t":3.2e-8,"M":9e13},{"s":7.66e8,"t":2.65e-8,"M":3.5e13},{"s":7.55e8,"t":2.2e-8,"M":6e13},
    {"s":7.9e8,"t":1.8e-8,"M":1.5e13},{"s":7.76e8,"t":1.46e-8,"M":9.5e13},{"s":7.55e8,"t":1.18e-8,"M":5e13},{"s":7.84e8,"t":9.5e-9,"M":7.5e13},
    {"s":7.63e8,"t":7.6e-9,"M":1.5e13},{"s":7.79e8,"t":6e-9,"M":6.5e13},{"s":7.58e8,"t":4.7e-9,"M":8.5e13},{"s":7.88e8,"t":3.7e-9,"M":3e13},
    {"s":7.69e8,"t":2.9e-9,"M":9.9e13},{"s":7.82e8,"t":2.25e-9,"M":1.5e13},{"s":7.6e8,"t":1.75e-9,"M":5.5e13},{"s":7.77e8,"t":1.35e-9,"M":7e13},
    {"s":7.57e8,"t":1.04e-9,"M":2.5e13},{"s":7.86e8,"t":8e-10,"M":9e13},{"s":7.67e8,"t":6.1e-10,"M":4.5e13},{"s":7.81e8,"t":4.6e-10,"M":1.5e13},
    {"s":7.59e8,"t":3.5e-10,"M":6e13},{"s":7.72e8,"t":2.65e-10,"M":8e13},{"s":7.62e8,"t":2e-10,"M":3e13},
    {"s":8.06e8,"t":6.4e-8,"M":1.5e13},{"s":7.95e8,"t":5.6e-8,"M":6.5e13},{"s":8.3e8,"t":4.9e-8,"M":8.5e13},{"s":8.17e8,"t":4.2e-8,"M":3e13},
    {"s":7.95e8,"t":3.6e-8,"M":1.5e13},{"s":8.28e8,"t":3e-8,"M":7e13},{"s":8.06e8,"t":2.5e-8,"M":9.5e13},{"s":7.95e8,"t":2.08e-8,"M":4.5e13},
    {"s":8.3e8,"t":1.72e-8,"M":1.5e13},{"s":8.17e8,"t":1.4e-8,"M":6e13},{"s":7.95e8,"t":1.14e-8,"M":8e13},{"s":8.25e8,"t":9.2e-9,"M":2e13},
    {"s":8.03e8,"t":7.4e-9,"M":9.9e13},{"s":8.2e8,"t":5.9e-9,"M":5.5e13},{"s":7.98e8,"t":4.6e-9,"M":1.5e13},{"s":8.29e8,"t":3.65e-9,"M":7.5e13},
    {"s":8.09e8,"t":2.85e-9,"M":4e13},{"s":8.23e8,"t":2.2e-9,"M":6.5e13},{"s":8e8,"t":1.72e-9,"M":9e13},{"s":8.18e8,"t":1.33e-9,"M":1.5e13},
    {"s":7.97e8,"t":1.03e-9,"M":5.5e13},{"s":8.27e8,"t":7.9e-10,"M":8.5e13},{"s":8.07e8,"t":6e-10,"M":2e13},{"s":8.22e8,"t":4.6e-10,"M":6e13},
    {"s":7.99e8,"t":3.5e-10,"M":9.5e13},{"s":8.13e8,"t":2.65e-10,"M":4e13},{"s":8.02e8,"t":2e-10,"M":7e13},
    {"s":8.35e8,"t":5.2e-8,"M":1.5e13},{"s":8.7e8,"t":4.6e-8,"M":5.5e13},{"s":8.56e8,"t":3.95e-8,"M":7.5e13},{"s":8.35e8,"t":3.4e-8,"M":2e13},
    {"s":8.67e8,"t":2.85e-8,"M":6e13},{"s":8.46e8,"t":2.38e-8,"M":1.5e13},{"s":8.35e8,"t":1.98e-8,"M":9e13},{"s":8.7e8,"t":1.65e-8,"M":5e13},
    {"s":8.56e8,"t":1.35e-8,"M":7e13},{"s":8.35e8,"t":1.1e-8,"M":1.5e13},{"s":8.64e8,"t":8.9e-9,"M":9.9e13},{"s":8.43e8,"t":7.2e-9,"M":4e13},
    {"s":8.6e8,"t":5.8e-9,"M":6.5e13},{"s":8.38e8,"t":4.6e-9,"M":1.5e13},{"s":8.69e8,"t":3.6e-9,"M":8e13},{"s":8.49e8,"t":2.85e-9,"M":5.5e13},
    {"s":8.63e8,"t":2.2e-9,"M":2e13},{"s":8.4e8,"t":1.7e-9,"M":9.5e13},{"s":8.58e8,"t":1.32e-9,"M":6e13},{"s":8.37e8,"t":1.02e-9,"M":1.5e13},
    {"s":8.66e8,"t":7.9e-10,"M":7.5e13},{"s":8.47e8,"t":6e-10,"M":4.5e13},{"s":8.61e8,"t":4.6e-10,"M":9e13},{"s":8.39e8,"t":3.5e-10,"M":1.5e13},
    {"s":8.53e8,"t":2.65e-10,"M":6e13},{"s":8.42e8,"t":2e-10,"M":8.5e13},{"s":8.55e8,"t":1.5e-10,"M":4e13},
    {"s":8.75e8,"t":4.8e-8,"M":6e13},{"s":9.15e8,"t":4.2e-8,"M":9.9e13},{"s":8.98e8,"t":3.65e-8,"M":1.5e13},{"s":8.75e8,"t":3.15e-8,"M":5.5e13},
    {"s":9.1e8,"t":2.65e-8,"M":8e13},{"s":8.87e8,"t":2.22e-8,"M":3e13},{"s":8.75e8,"t":1.85e-8,"M":6.5e13},{"s":9.15e8,"t":1.55e-8,"M":1.5e13},
    {"s":8.98e8,"t":1.28e-8,"M":9e13},{"s":8.75e8,"t":1.05e-8,"M":4.5e13},{"s":9.07e8,"t":8.5e-9,"M":7e13},{"s":8.84e8,"t":6.9e-9,"M":1.5e13},
    {"s":9.02e8,"t":5.6e-9,"M":9.9e13},{"s":8.79e8,"t":4.5e-9,"M":5e13},{"s":9.12e8,"t":3.55e-9,"M":2e13},{"s":8.91e8,"t":2.8e-9,"M":7.5e13},
    {"s":9.05e8,"t":2.2e-9,"M":4e13},{"s":8.81e8,"t":1.7e-9,"M":8.5e13},{"s":9e8,"t":1.32e-9,"M":1.5e13},{"s":8.78e8,"t":1.02e-9,"M":6e13},
    {"s":9.09e8,"t":7.9e-10,"M":9.5e13},{"s":8.89e8,"t":6e-10,"M":2e13},{"s":9.04e8,"t":4.6e-10,"M":5.5e13},{"s":8.8e8,"t":3.5e-10,"M":8e13},
    {"s":8.95e8,"t":2.65e-10,"M":1.5e13},{"s":8.83e8,"t":2e-10,"M":6.5e13},{"s":8.97e8,"t":1.5e-10,"M":9e13},
    {"s":9.31e8,"t":4.8e-8,"M":9.9e13},{"s":9.2e8,"t":4.3e-8,"M":1.5e13},{"s":9.6e8,"t":3.8e-8,"M":6.5e13},{"s":9.42e8,"t":3.3e-8,"M":7.5e13},
    {"s":9.2e8,"t":2.85e-8,"M":2e13},{"s":9.55e8,"t":2.42e-8,"M":5e13},{"s":9.31e8,"t":2.05e-8,"M":9e13},{"s":9.2e8,"t":1.72e-8,"M":1.5e13},
    {"s":9.6e8,"t":1.43e-8,"M":6e13},{"s":9.42e8,"t":1.19e-8,"M":8.5e13},{"s":9.2e8,"t":9.8e-9,"M":3e13},{"s":9.52e8,"t":8e-9,"M":9.9e13},
    {"s":9.29e8,"t":6.5e-9,"M":5.5e13},{"s":9.47e8,"t":5.3e-9,"M":1.5e13},{"s":9.24e8,"t":4.3e-9,"M":7e13},{"s":9.58e8,"t":3.4e-9,"M":4e13},
    {"s":9.36e8,"t":2.7e-9,"M":9.5e13},{"s":9.5e8,"t":2.12e-9,"M":1.5e13},{"s":9.26e8,"t":1.65e-9,"M":6e13},{"s":9.45e8,"t":1.29e-9,"M":8e13},
    {"s":9.22e8,"t":1e-9,"M":2.5e13},{"s":9.56e8,"t":7.8e-10,"M":5.5e13},{"s":9.34e8,"t":6e-10,"M":9.9e13},{"s":9.49e8,"t":4.6e-10,"M":1.5e13},
    {"s":9.25e8,"t":3.5e-10,"M":7e13},{"s":9.4e8,"t":2.65e-10,"M":4.5e13},{"s":9.28e8,"t":2e-10,"M":8.5e13},{"s":9.44e8,"t":1.5e-10,"M":1.5e13},
    {"s":9.33e8,"t":1.15e-10,"M":6e13},
    {"s":9.66e8,"t":4.3e-8,"M":7.5e13},{"s":9.86e8,"t":3.9e-8,"M":2e13},{"s":9.65e8,"t":3.7e-8,"M":5e13},{"s":9.96e8,"t":3.5e-8,"M":9.9e13},
    {"s":9.75e8,"t":3.3e-8,"M":1.5e13},{"s":9.99e8,"t":3.05e-8,"M":6e13},{"s":9.7e8,"t":2.85e-8,"M":8.5e13},{"s":9.92e8,"t":2.6e-8,"M":1.5e13},
    {"s":9.68e8,"t":2.4e-8,"M":4e13},{"s":9.97e8,"t":2.2e-8,"M":7e13},{"s":9.8e8,"t":2e-8,"M":9.5e13},{"s":9.99e8,"t":1.82e-8,"M":1.5e13},
    {"s":9.66e8,"t":1.62e-8,"M":6e13},{"s":9.94e8,"t":1.45e-8,"M":3e13},{"s":9.77e8,"t":1.27e-8,"M":8.5e13},{"s":9.99e8,"t":1.1e-8,"M":5.5e13},
    {"s":9.69e8,"t":9.5e-9,"M":1.5e13},{"s":9.95e8,"t":8.2e-9,"M":9.9e13},{"s":9.83e8,"t":7.1e-9,"M":6.5e13},{"s":9.99e8,"t":6.1e-9,"M":2e13},
    {"s":9.67e8,"t":5.3e-9,"M":7e13},{"s":9.93e8,"t":4.5e-9,"M":4.5e13},{"s":9.78e8,"t":3.85e-9,"M":9e13},{"s":9.99e8,"t":3.3e-9,"M":1.5e13},
    {"s":9.71e8,"t":2.8e-9,"M":5.5e13},{"s":9.96e8,"t":2.4e-9,"M":8e13},{"s":9.82e8,"t":2e-9,"M":3e13},{"s":9.99e8,"t":1.7e-9,"M":6.5e13},
    {"s":9.68e8,"t":1.45e-9,"M":9.5e13},{"s":9.94e8,"t":1.22e-9,"M":1.5e13},{"s":9.79e8,"t":1.03e-9,"M":5e13},{"s":9.99e8,"t":8.7e-10,"M":7.5e13},
    {"s":9.73e8,"t":7.3e-10,"M":2e13},{"s":9.97e8,"t":6.1e-10,"M":9e13},{"s":9.85e8,"t":5.1e-10,"M":4e13},{"s":9.99e8,"t":4.2e-10,"M":6e13},
    {"s":9.7e8,"t":3.5e-10,"M":1.5e13},{"s":9.95e8,"t":2.9e-10,"M":8.5e13},{"s":9.81e8,"t":2.4e-10,"M":5.5e13},{"s":9.99e8,"t":1.95e-10,"M":1.5e13},
    {"s":9.76e8,"t":1.6e-10,"M":9.9e13},{"s":9.98e8,"t":1.3e-10,"M":6e13},{"s":9.9e8,"t":1.08e-10,"M":3e13},
    {"s":2.15e8,"t":7.8e-7,"M":1.5e13},{"s":2.23e8,"t":6.9e-7,"M":4e13},{"s":2.28e8,"t":6.6e-7,"M":5.5e13},{"s":2.35e8,"t":6.1e-7,"M":7e13},
    {"s":2.47e8,"t":6.1e-7,"M":1.5e13},{"s":2.53e8,"t":6e-7,"M":3e13},{"s":2.6e8,"t":5.5e-7,"M":3e13},{"s":2.73e8,"t":5.2e-7,"M":6e13},
    {"s":2.78e8,"t":5.2e-7,"M":1.5e13},{"s":2.9e8,"t":4.9e-7,"M":8.5e13},{"s":3e8,"t":4.4e-7,"M":7e13},{"s":3.1e8,"t":4.1e-7,"M":8.5e13},
    {"s":3.27e8,"t":4.1e-7,"M":9.9e13},{"s":3.18e8,"t":3.6e-7,"M":4e13},{"s":3e8,"t":3.7e-7,"M":4.5e13},{"s":3.37e8,"t":3.06e-7,"M":7e13},
    {"s":3.57e8,"t":2.9e-7,"M":1.5e13},{"s":3.78e8,"t":2.9e-7,"M":5.5e13},{"s":3.68e8,"t":2.6e-7,"M":1.5e13},{"s":3.95e8,"t":2.45e-7,"M":3e13},
    {"s":4.05e8,"t":2.2e-7,"M":7e13},{"s":4.35e8,"t":2.2e-7,"M":6e13},{"s":4.34e8,"t":1.85e-7,"M":9.5e13},{"s":4.55e8,"t":1.45e-7,"M":8.5e13},
    {"s":4.66e8,"t":1.75e-7,"M":3e13},{"s":4.74e8,"t":1.8e-7,"M":5e13},{"s":4.89e8,"t":1.45e-7,"M":1.5e13},{"s":4.16e8,"t":1.95e-7,"M":4e13},
    {"s":4.99e8,"t":1.37e-7,"M":1.5e13},{"s":5.25e8,"t":1.22e-7,"M":4e13},{"s":5.46e8,"t":1.45e-7,"M":6e13},{"s":5.55e8,"t":1.02e-7,"M":9.9e13},
    {"s":5.8e8,"t":1.16e-7,"M":5.5e13},{"s":6.09e8,"t":1.16e-7,"M":7.5e13},{"s":6.05e8,"t":1.05e-7,"M":3e13},{"s":6.35e8,"t":9.1e-8,"M":6e13},
    {"s":6.65e8,"t":8.6e-8,"M":4e13},{"s":6.8e8,"t":7.6e-8,"M":7e13},{"s":7.1e8,"t":7.2e-8,"M":9.5e13},{"s":7.5e8,"t":6.8e-8,"M":6e13},
    {"s":7.75e8,"t":6.9e-8,"M":1.5e13},{"s":8.1e8,"t":6.4e-8,"M":3e13},{"s":8.4e8,"t":5.4e-8,"M":5e13},{"s":8.7e8,"t":5.1e-8,"M":8.5e13},
    {"s":9.1e8,"t":4.7e-8,"M":3e13},{"s":9.5e8,"t":4.5e-8,"M":7.5e13},{"s":9.8e8,"t":3.9e-8,"M":1.5e13},{"s":1e9,"t":3.4e-8,"M":8.5e13},
    {"s":9.98e8,"t":2.9e-8,"M":3e13},{"s":9.95e8,"t":2.1e-8,"M":7e13},
    {"s":1.045e8,"t":2.9e-6,"M":3.5e13},{"s":1.055e8,"t":2e-6,"M":8e13},{"s":1.05e8,"t":1.45e-6,"M":1.5e13},{"s":1.045e8,"t":1.1e-6,"M":6e13},
    {"s":1.055e8,"t":6.6e-7,"M":9.9e13},{"s":1.05e8,"t":4.9e-7,"M":4.5e13},{"s":1.045e8,"t":3.7e-7,"M":7e13},{"s":1.055e8,"t":2.4e-7,"M":2e13},
    {"s":1.05e8,"t":1.85e-7,"M":5.5e13},{"s":1.045e8,"t":1.3e-7,"M":9e13},{"s":1.055e8,"t":9.4e-8,"M":1.5e13},{"s":1.05e8,"t":6.8e-8,"M":6.5e13},
    {"s":1.105e8,"t":2.6e-6,"M":4e13},{"s":1.117e8,"t":1.6e-6,"M":8.5e13},{"s":1.11e8,"t":1.25e-6,"M":2.5e13},{"s":1.105e8,"t":8.2e-7,"M":7.5e13},
    {"s":1.117e8,"t":6.3e-7,"M":5e13},{"s":1.11e8,"t":4.2e-7,"M":9.5e13},{"s":1.105e8,"t":3.1e-7,"M":1.5e13},{"s":1.117e8,"t":2.3e-7,"M":6e13},
    {"s":1.11e8,"t":1.65e-7,"M":3e13},{"s":1.105e8,"t":1.2e-7,"M":8e13},{"s":1.117e8,"t":8.8e-8,"M":5.5e13},{"s":1.11e8,"t":5.6e-8,"M":1.5e13},
    {"s":1.163e8,"t":2.3e-6,"M":9.9e13},{"s":1.177e8,"t":1.75e-6,"M":7e13},{"s":1.17e8,"t":1.35e-6,"M":4e13},{"s":1.163e8,"t":1.03e-6,"M":6.5e13},
    {"s":1.177e8,"t":7.8e-7,"M":2e13},{"s":1.17e8,"t":6e-7,"M":8.5e13},{"s":1.163e8,"t":4.5e-7,"M":3.5e13},{"s":1.177e8,"t":3.4e-7,"M":8e13},
    {"s":1.17e8,"t":2.5e-7,"M":1.5e13},{"s":1.163e8,"t":1.85e-7,"M":6e13},{"s":1.177e8,"t":1.35e-7,"M":9.9e13},{"s":1.17e8,"t":1e-7,"M":4.5e13},
    {"s":1.163e8,"t":7.4e-8,"M":7e13},{"s":1.177e8,"t":5.4e-8,"M":2e13},
    {"s":1.223e8,"t":2.4e-6,"M":5.5e13},{"s":1.237e8,"t":1.8e-6,"M":9e13},{"s":1.23e8,"t":1.3e-6,"M":1.5e13},{"s":1.223e8,"t":1.02e-6,"M":6.5e13},
    {"s":1.237e8,"t":7.5e-7,"M":4e13},{"s":1.23e8,"t":5.8e-7,"M":8.5e13},{"s":1.223e8,"t":4.4e-7,"M":2.5e13},{"s":1.237e8,"t":3.3e-7,"M":7.5e13},
    {"s":1.23e8,"t":2.4e-7,"M":5e13},{"s":1.223e8,"t":1.8e-7,"M":9.5e13},{"s":1.237e8,"t":1.3e-7,"M":1.5e13},{"s":1.23e8,"t":9.5e-8,"M":6e13},
    {"s":1.223e8,"t":6.9e-8,"M":3e13},{"s":1.237e8,"t":4.8e-8,"M":8e13},
    {"s":1.292e8,"t":2.2e-6,"M":5.5e13},{"s":1.308e8,"t":1.65e-6,"M":1.5e13},{"s":1.3e8,"t":1.22e-6,"M":9.9e13},{"s":1.292e8,"t":9.1e-7,"M":7e13},
    {"s":1.308e8,"t":6.9e-7,"M":4e13},{"s":1.3e8,"t":5.3e-7,"M":6.5e13},{"s":1.292e8,"t":3.9e-7,"M":2e13},{"s":1.308e8,"t":2.9e-7,"M":8.5e13},
    {"s":1.3e8,"t":2.15e-7,"M":3.5e13},{"s":1.292e8,"t":1.6e-7,"M":8e13},{"s":1.308e8,"t":1.15e-7,"M":1.5e13},{"s":1.3e8,"t":8.4e-8,"M":6e13},
    {"s":1.292e8,"t":6e-8,"M":9.9e13},{"s":1.308e8,"t":4.3e-8,"M":4.5e13},
    {"s":1.362e8,"t":2.05e-6,"M":7e13},{"s":1.378e8,"t":1.5e-6,"M":2e13},{"s":1.37e8,"t":1.12e-6,"M":5.5e13},{"s":1.362e8,"t":8.5e-7,"M":9e13},
    {"s":1.378e8,"t":6.4e-7,"M":1.5e13},{"s":1.37e8,"t":4.8e-7,"M":6.5e13},{"s":1.362e8,"t":3.6e-7,"M":4e13},{"s":1.378e8,"t":2.65e-7,"M":8.5e13},
    {"s":1.37e8,"t":1.95e-7,"M":2.5e13},{"s":1.362e8,"t":1.45e-7,"M":7.5e13},{"s":1.378e8,"t":1.07e-7,"M":5e13},{"s":1.37e8,"t":7.7e-8,"M":9.5e13},
    {"s":1.362e8,"t":5.5e-8,"M":1.5e13},{"s":1.378e8,"t":3.9e-8,"M":6e13},
    {"s":1.442e8,"t":1.9e-6,"M":3e13},{"s":1.458e8,"t":1.4e-6,"M":8e13},{"s":1.45e8,"t":1.03e-6,"M":5.5e13},{"s":1.442e8,"t":7.8e-7,"M":1.5e13},
    {"s":1.458e8,"t":5.8e-7,"M":9.9e13},{"s":1.45e8,"t":4.4e-7,"M":7e13},{"s":1.442e8,"t":3.3e-7,"M":4e13},{"s":1.458e8,"t":2.4e-7,"M":6.5e13},
    {"s":1.45e8,"t":1.8e-7,"M":2e13},{"s":1.442e8,"t":1.33e-7,"M":8.5e13},{"s":1.458e8,"t":9.8e-8,"M":3.5e13},{"s":1.45e8,"t":7.2e-8,"M":8e13},
    {"s":1.442e8,"t":5.2e-8,"M":1.5e13},{"s":1.458e8,"t":3.6e-8,"M":6e13},{"s":1.45e8,"t":2.6e-8,"M":9.9e13},
    {"s":1.52e8,"t":1.75e-6,"M":4.5e13},{"s":1.54e8,"t":1.28e-6,"M":7e13},{"s":1.53e8,"t":9.6e-7,"M":2e13},{"s":1.52e8,"t":7.2e-7,"M":5.5e13},
    {"s":1.54e8,"t":5.4e-7,"M":9e13},{"s":1.53e8,"t":4.1e-7,"M":1.5e13},{"s":1.52e8,"t":3.1e-7,"M":6.5e13},{"s":1.54e8,"t":2.3e-7,"M":4e13},
    {"s":1.53e8,"t":1.7e-7,"M":8.5e13},{"s":1.52e8,"t":1.27e-7,"M":2.5e13},{"s":1.54e8,"t":9.3e-8,"M":7.5e13},{"s":1.53e8,"t":6.8e-8,"M":5e13},
    {"s":1.52e8,"t":5e-8,"M":9.5e13},{"s":1.54e8,"t":3.5e-8,"M":1.5e13},{"s":1.53e8,"t":2.5e-8,"M":6e13},{"s":1.52e8,"t":1.75e-8,"M":3e13},
    {"s":1.61e8,"t":1.6e-6,"M":8e13},{"s":1.63e8,"t":1.2e-6,"M":5.5e13},{"s":1.62e8,"t":9e-7,"M":1.5e13},{"s":1.61e8,"t":6.8e-7,"M":9.9e13},
    {"s":1.63e8,"t":5.1e-7,"M":7e13},{"s":1.62e8,"t":3.9e-7,"M":4e13},{"s":1.61e8,"t":2.95e-7,"M":6.5e13},{"s":1.63e8,"t":2.2e-7,"M":2e13},
    {"s":1.62e8,"t":1.65e-7,"M":8.5e13},{"s":1.61e8,"t":1.22e-7,"M":3.5e13},{"s":1.63e8,"t":9e-8,"M":8e13},{"s":1.62e8,"t":6.6e-8,"M":1.5e13},
    {"s":1.61e8,"t":4.8e-8,"M":6e13},{"s":1.63e8,"t":3.4e-8,"M":9.9e13},{"s":1.62e8,"t":2.4e-8,"M":4.5e13},{"s":1.61e8,"t":1.7e-8,"M":7e13},
    {"s":1.7e8,"t":1.45e-6,"M":2e13},{"s":1.72e8,"t":1.1e-6,"M":5.5e13},{"s":1.71e8,"t":8.4e-7,"M":9e13},{"s":1.7e8,"t":6.4e-7,"M":1.5e13},
    {"s":1.72e8,"t":4.9e-7,"M":6.5e13},{"s":1.71e8,"t":3.7e-7,"M":4e13},{"s":1.7e8,"t":2.8e-7,"M":8.5e13},{"s":1.72e8,"t":2.1e-7,"M":2.5e13},
    {"s":1.71e8,"t":1.58e-7,"M":7.5e13},{"s":1.7e8,"t":1.17e-7,"M":5e13},{"s":1.72e8,"t":8.6e-8,"M":9.5e13},{"s":1.71e8,"t":6.3e-8,"M":1.5e13},
    {"s":1.7e8,"t":4.6e-8,"M":6e13},{"s":1.72e8,"t":3.3e-8,"M":3e13},{"s":1.71e8,"t":2.3e-8,"M":8e13},{"s":1.7e8,"t":1.6e-8,"M":5.5e13},
    {"s":1.8e8,"t":1.25e-6,"M":1.5e13},{"s":1.82e8,"t":9.6e-7,"M":9.9e13},{"s":1.81e8,"t":7.6e-7,"M":7e13},{"s":1.8e8,"t":5.9e-7,"M":4e13},
    {"s":1.82e8,"t":4.6e-7,"M":6.5e13},{"s":1.81e8,"t":3.5e-7,"M":2e13},{"s":1.8e8,"t":2.65e-7,"M":8.5e13},{"s":1.82e8,"t":2e-7,"M":3.5e13},
    {"s":1.81e8,"t":1.5e-7,"M":8e13},{"s":1.8e8,"t":1.12e-7,"M":1.5e13},{"s":1.82e8,"t":8.2e-8,"M":6e13},{"s":1.81e8,"t":6e-8,"M":9.9e13},
    {"s":1.8e8,"t":4.4e-8,"M":4.5e13},{"s":1.82e8,"t":3.1e-8,"M":7e13},{"s":1.81e8,"t":2.2e-8,"M":2e13},{"s":1.8e8,"t":1.55e-8,"M":5.5e13},
    {"s":1.9e8,"t":1e-6,"M":9e13},{"s":1.92e8,"t":8.2e-7,"M":1.5e13},{"s":1.91e8,"t":6.5e-7,"M":6.5e13},{"s":1.9e8,"t":5.1e-7,"M":4e13},
    {"s":1.92e8,"t":4e-7,"M":8.5e13},{"s":1.91e8,"t":3.1e-7,"M":2.5e13},{"s":1.9e8,"t":2.4e-7,"M":7.5e13},{"s":1.92e8,"t":1.8e-7,"M":5e13},
    {"s":1.91e8,"t":1.36e-7,"M":9.5e13},{"s":1.9e8,"t":1.02e-7,"M":1.5e13},{"s":1.92e8,"t":7.5e-8,"M":6e13},{"s":1.91e8,"t":5.5e-8,"M":3e13},
    {"s":1.9e8,"t":4e-8,"M":8e13},{"s":1.92e8,"t":2.9e-8,"M":5.5e13},{"s":1.91e8,"t":2.05e-8,"M":1.5e13},{"s":1.9e8,"t":1.45e-8,"M":9.9e13},
    {"s":2e8,"t":8.8e-7,"M":7e13},{"s":2.02e8,"t":7.2e-7,"M":4e13},{"s":2.01e8,"t":5.9e-7,"M":6.5e13},{"s":2e8,"t":4.7e-7,"M":2e13},
    {"s":2.02e8,"t":3.7e-7,"M":8.5e13},{"s":2.01e8,"t":2.9e-7,"M":3.5e13},{"s":2e8,"t":2.25e-7,"M":8e13},{"s":2.02e8,"t":1.72e-7,"M":1.5e13},
    {"s":2.01e8,"t":1.3e-7,"M":6e13},{"s":2e8,"t":9.8e-8,"M":9.9e13},{"s":2.02e8,"t":7.3e-8,"M":4.5e13},{"s":2.01e8,"t":5.4e-8,"M":7e13},
    {"s":2e8,"t":3.9e-8,"M":2e13},{"s":2.02e8,"t":2.85e-8,"M":5.5e13},{"s":2.01e8,"t":2.05e-8,"M":9e13},{"s":2e8,"t":1.45e-8,"M":1.5e13},
    {"s":2.02e8,"t":1.05e-8,"M":6.5e13},
    {"s":2.12e8,"t":7.5e-7,"M":4e13},{"s":2.14e8,"t":6.3e-7,"M":8.5e13},{"s":2.13e8,"t":5.2e-7,"M":2.5e13},{"s":2.12e8,"t":4.2e-7,"M":7.5e13},
    {"s":2.14e8,"t":3.4e-7,"M":5e13},{"s":2.13e8,"t":2.7e-7,"M":9.5e13},{"s":2.12e8,"t":2.1e-7,"M":1.5e13},{"s":2.14e8,"t":1.6e-7,"M":6e13},
    {"s":2.13e8,"t":1.22e-7,"M":3e13},{"s":2.12e8,"t":9.2e-8,"M":8e13},{"s":2.14e8,"t":6.9e-8,"M":5.5e13},{"s":2.13e8,"t":5.1e-8,"M":1.5e13},
    {"s":2.12e8,"t":3.8e-8,"M":9.9e13},{"s":2.14e8,"t":2.8e-8,"M":7e13},{"s":2.13e8,"t":2e-8,"M":4e13},{"s":2.12e8,"t":1.45e-8,"M":6.5e13},
    {"s":2.14e8,"t":1.05e-8,"M":2e13},
    {"s":2.24e8,"t":6.6e-7,"M":8.5e13},{"s":2.26e8,"t":5.6e-7,"M":3.5e13},{"s":2.25e8,"t":4.6e-7,"M":8e13},{"s":2.24e8,"t":3.8e-7,"M":1.5e13},
    {"s":2.26e8,"t":3.1e-7,"M":6e13},{"s":2.25e8,"t":2.5e-7,"M":9.9e13},{"s":2.24e8,"t":1.95e-7,"M":4.5e13},{"s":2.26e8,"t":1.5e-7,"M":7e13},
    {"s":2.25e8,"t":1.15e-7,"M":2e13},{"s":2.24e8,"t":8.8e-8,"M":5.5e13},{"s":2.26e8,"t":6.6e-8,"M":9e13},{"s":2.25e8,"t":4.9e-8,"M":1.5e13},
    {"s":2.24e8,"t":3.6e-8,"M":6.5e13},{"s":2.26e8,"t":2.7e-8,"M":4e13},{"s":2.25e8,"t":2e-8,"M":8.5e13},{"s":2.24e8,"t":1.45e-8,"M":2.5e13},
    {"s":2.26e8,"t":1.02e-8,"M":7.5e13},{"s":2.25e8,"t":7e-9,"M":5e13},
    {"s":2.37e8,"t":5.9e-7,"M":9.5e13},{"s":2.39e8,"t":5e-7,"M":1.5e13},{"s":2.38e8,"t":4.2e-7,"M":6e13},{"s":2.37e8,"t":3.45e-7,"M":3e13},
    {"s":2.39e8,"t":2.8e-7,"M":8e13},{"s":2.38e8,"t":2.25e-7,"M":5.5e13},{"s":2.37e8,"t":1.78e-7,"M":1.5e13},{"s":2.39e8,"t":1.38e-7,"M":9.9e13},
    {"s":2.38e8,"t":1.06e-7,"M":7e13},{"s":2.37e8,"t":8.1e-8,"M":4e13},{"s":2.39e8,"t":6.1e-8,"M":6.5e13},{"s":2.38e8,"t":4.6e-8,"M":2e13},
    {"s":2.37e8,"t":3.4e-8,"M":8.5e13},{"s":2.39e8,"t":2.55e-8,"M":3.5e13},{"s":2.38e8,"t":1.9e-8,"M":8e13},{"s":2.37e8,"t":1.38e-8,"M":1.5e13},
    {"s":2.39e8,"t":9.8e-9,"M":6e13},{"s":2.38e8,"t":6.8e-9,"M":9.9e13},
    {"s":2.5e8,"t":5.6e-7,"M":4.5e13},{"s":2.54e8,"t":4.7e-7,"M":7e13},{"s":2.52e8,"t":3.9e-7,"M":2e13},{"s":2.5e8,"t":3.2e-7,"M":5.5e13},
    {"s":2.54e8,"t":2.6e-7,"M":9e13},{"s":2.52e8,"t":2.1e-7,"M":1.5e13},{"s":2.5e8,"t":1.65e-7,"M":6.5e13},{"s":2.54e8,"t":1.3e-7,"M":4e13},
    {"s":2.52e8,"t":1e-7,"M":8.5e13},{"s":2.5e8,"t":7.7e-8,"M":2.5e13},{"s":2.54e8,"t":5.8e-8,"M":7.5e13},{"s":2.52e8,"t":4.4e-8,"M":5e13},
    {"s":2.5e8,"t":3.3e-8,"M":9.5e13},{"s":2.54e8,"t":2.45e-8,"M":1.5e13},{"s":2.52e8,"t":1.8e-8,"M":6e13},{"s":2.5e8,"t":1.3e-8,"M":3e13},
    {"s":2.54e8,"t":9.3e-9,"M":8e13},{"s":2.52e8,"t":6.4e-9,"M":5.5e13},{"s":2.5e8,"t":4.5e-9,"M":1.5e13},
    {"s":2.65e8,"t":5.1e-7,"M":9.9e13},{"s":2.69e8,"t":4.3e-7,"M":7e13},{"s":2.67e8,"t":3.6e-7,"M":4e13},{"s":2.65e8,"t":2.95e-7,"M":6.5e13},
    {"s":2.69e8,"t":2.4e-7,"M":2e13},{"s":2.67e8,"t":1.95e-7,"M":8.5e13},{"s":2.65e8,"t":1.55e-7,"M":3.5e13},{"s":2.69e8,"t":1.22e-7,"M":8e13},
    {"s":2.67e8,"t":9.4e-8,"M":1.5e13},{"s":2.65e8,"t":7.2e-8,"M":6e13},{"s":2.69e8,"t":5.5e-8,"M":9.9e13},{"s":2.67e8,"t":4.1e-8,"M":4.5e13},
    {"s":2.65e8,"t":3.1e-8,"M":7e13},{"s":2.69e8,"t":2.3e-8,"M":2e13},{"s":2.67e8,"t":1.7e-8,"M":5.5e13},{"s":2.65e8,"t":1.25e-8,"M":9e13},
    {"s":2.69e8,"t":9e-9,"M":1.5e13},{"s":2.67e8,"t":6.3e-9,"M":6.5e13},{"s":2.65e8,"t":4.4e-9,"M":4e13},
    {"s":2.81e8,"t":4.7e-7,"M":8.5e13},{"s":2.85e8,"t":4e-7,"M":2.5e13},{"s":2.83e8,"t":3.3e-7,"M":7.5e13},{"s":2.81e8,"t":2.7e-7,"M":5e13},
    {"s":2.85e8,"t":2.2e-7,"M":9.5e13},{"s":2.83e8,"t":1.8e-7,"M":1.5e13},{"s":2.81e8,"t":1.43e-7,"M":6e13},{"s":2.85e8,"t":1.13e-7,"M":3e13},
    {"s":2.83e8,"t":8.8e-8,"M":8e13},{"s":2.81e8,"t":6.8e-8,"M":5.5e13},{"s":2.85e8,"t":5.2e-8,"M":1.5e13},{"s":2.83e8,"t":3.9e-8,"M":9.9e13},
    {"s":2.81e8,"t":2.95e-8,"M":7e13},{"s":2.85e8,"t":2.2e-8,"M":4e13},{"s":2.83e8,"t":1.62e-8,"M":6.5e13},{"s":2.81e8,"t":1.2e-8,"M":2e13},
    {"s":2.85e8,"t":8.6e-9,"M":8.5e13},{"s":2.83e8,"t":6.1e-9,"M":3.5e13},{"s":2.81e8,"t":4.3e-9,"M":8e13},{"s":2.85e8,"t":3e-9,"M":1.5e13},
    {"s":2.98e8,"t":4.2e-7,"M":6e13},{"s":3.02e8,"t":3.6e-7,"M":9.9e13},{"s":3e8,"t":3e-7,"M":4.5e13},{"s":2.98e8,"t":2.5e-7,"M":7e13},
    {"s":3.02e8,"t":2e-7,"M":2e13},{"s":3e8,"t":1.62e-7,"M":5.5e13},{"s":2.98e8,"t":1.3e-7,"M":9e13},{"s":3.02e8,"t":1.03e-7,"M":1.5e13},
    {"s":3e8,"t":8e-8,"M":6.5e13},{"s":2.98e8,"t":6.2e-8,"M":4e13},{"s":3.02e8,"t":4.7e-8,"M":8.5e13},{"s":3e8,"t":3.6e-8,"M":2.5e13},
    {"s":2.98e8,"t":2.7e-8,"M":7.5e13},{"s":3.02e8,"t":2e-8,"M":5e13},{"s":3e8,"t":1.5e-8,"M":9.5e13},{"s":2.98e8,"t":1.1e-8,"M":1.5e13},
    {"s":3.02e8,"t":8e-9,"M":6e13},{"s":3e8,"t":5.8e-9,"M":3e13},{"s":2.98e8,"t":4.1e-9,"M":8e13},{"s":3.02e8,"t":2.9e-9,"M":5.5e13},
    {"s":3.16e8,"t":3.7e-7,"M":1.5e13},{"s":3.2e8,"t":3.2e-7,"M":9.9e13},{"s":3.18e8,"t":2.7e-7,"M":7e13},{"s":3.16e8,"t":2.25e-7,"M":4e13},
    {"s":3.2e8,"t":1.85e-7,"M":6.5e13},{"s":3.18e8,"t":1.5e-7,"M":2e13},{"s":3.16e8,"t":1.2e-7,"M":8.5e13},{"s":3.2e8,"t":9.5e-8,"M":3.5e13},
    {"s":3.18e8,"t":7.4e-8,"M":8e13},{"s":3.16e8,"t":5.7e-8,"M":1.5e13},{"s":3.2e8,"t":4.4e-8,"M":6e13},{"s":3.18e8,"t":3.3e-8,"M":9.9e13},
    {"s":3.16e8,"t":2.5e-8,"M":4.5e13},{"s":3.2e8,"t":1.9e-8,"M":7e13},{"s":3.18e8,"t":1.4e-8,"M":2e13},{"s":3.16e8,"t":1.03e-8,"M":5.5e13},
    {"s":3.2e8,"t":7.5e-9,"M":9e13},{"s":3.18e8,"t":5.4e-9,"M":1.5e13},{"s":3.16e8,"t":3.9e-9,"M":6.5e13},{"s":3.2e8,"t":2.7e-9,"M":4e13},
    {"s":3.18e8,"t":1.9e-9,"M":8.5e13},
    {"s":3.35e8,"t":3e-7,"M":2.5e13},{"s":3.39e8,"t":2.6e-7,"M":7.5e13},{"s":3.37e8,"t":2.2e-7,"M":5e13},{"s":3.35e8,"t":1.8e-7,"M":9.5e13},
    {"s":3.39e8,"t":1.45e-7,"M":1.5e13},{"s":3.37e8,"t":1.15e-7,"M":6e13},{"s":3.35e8,"t":9e-8,"M":3e13},{"s":3.39e8,"t":7e-8,"M":8e13},
    {"s":3.37e8,"t":5.4e-8,"M":5.5e13},{"s":3.35e8,"t":4.1e-8,"M":1.5e13},{"s":3.39e8,"t":3.1e-8,"M":9.9e13},{"s":3.37e8,"t":2.35e-8,"M":7e13},
    {"s":3.35e8,"t":1.75e-8,"M":4e13},{"s":3.39e8,"t":1.3e-8,"M":6.5e13},{"s":3.37e8,"t":9.6e-9,"M":2e13},{"s":3.35e8,"t":7e-9,"M":8.5e13},
    {"s":3.39e8,"t":5.1e-9,"M":3.5e13},{"s":3.37e8,"t":3.7e-9,"M":8e13},{"s":3.35e8,"t":2.6e-9,"M":1.5e13},{"s":3.39e8,"t":1.85e-9,"M":6e13},
    {"s":3.37e8,"t":1.3e-9,"M":9.9e13},
    {"s":3.55e8,"t":2.8e-7,"M":4.5e13},{"s":3.61e8,"t":2.4e-7,"M":7e13},{"s":3.58e8,"t":2e-7,"M":2e13},{"s":3.55e8,"t":1.65e-7,"M":5.5e13},
    {"s":3.61e8,"t":1.33e-7,"M":9e13},{"s":3.58e8,"t":1.06e-7,"M":1.5e13},{"s":3.55e8,"t":8.4e-8,"M":6.5e13},{"s":3.61e8,"t":6.6e-8,"M":4e13},
    {"s":3.58e8,"t":5.1e-8,"M":8.5e13},{"s":3.55e8,"t":3.9e-8,"M":2.5e13},{"s":3.61e8,"t":3e-8,"M":7.5e13},{"s":3.58e8,"t":2.25e-8,"M":5e13},
    {"s":3.55e8,"t":1.7e-8,"M":9.5e13},{"s":3.61e8,"t":1.27e-8,"M":1.5e13},{"s":3.58e8,"t":9.4e-9,"M":6e13},{"s":3.55e8,"t":6.9e-9,"M":3e13},
    {"s":3.61e8,"t":5e-9,"M":8e13},{"s":3.58e8,"t":3.6e-9,"M":5.5e13},{"s":3.55e8,"t":2.6e-9,"M":1.5e13},{"s":3.61e8,"t":1.85e-9,"M":9.9e13},
    {"s":3.58e8,"t":1.3e-9,"M":7e13},
    {"s":3.77e8,"t":2.6e-7,"M":4e13},{"s":3.83e8,"t":2.25e-7,"M":6.5e13},{"s":3.8e8,"t":1.9e-7,"M":2e13},{"s":3.77e8,"t":1.55e-7,"M":8.5e13},
    {"s":3.83e8,"t":1.26e-7,"M":3.5e13},{"s":3.8e8,"t":1e-7,"M":8e13},{"s":3.77e8,"t":8e-8,"M":1.5e13},{"s":3.83e8,"t":6.3e-8,"M":6e13},
    {"s":3.8e8,"t":4.9e-8,"M":9.9e13},{"s":3.77e8,"t":3.7e-8,"M":4.5e13},{"s":3.83e8,"t":2.85e-8,"M":7e13},{"s":3.8e8,"t":2.15e-8,"M":2e13},
    {"s":3.77e8,"t":1.62e-8,"M":5.5e13},{"s":3.83e8,"t":1.2e-8,"M":9e13},{"s":3.8e8,"t":9e-9,"M":1.5e13},{"s":3.77e8,"t":6.6e-9,"M":6.5e13},
    {"s":3.83e8,"t":4.8e-9,"M":4e13},{"s":3.8e8,"t":3.5e-9,"M":8.5e13},{"s":3.77e8,"t":2.5e-9,"M":2.5e13},{"s":3.83e8,"t":1.8e-9,"M":7.5e13},
    {"s":3.8e8,"t":1.25e-9,"M":5e13},
    {"s":3.99e8,"t":2.3e-7,"M":9.5e13},{"s":4.05e8,"t":2e-7,"M":1.5e13},{"s":4.02e8,"t":1.7e-7,"M":6e13},{"s":3.99e8,"t":1.42e-7,"M":3e13},
    {"s":4.05e8,"t":1.16e-7,"M":8e13},{"s":4.02e8,"t":9.3e-8,"M":5.5e13},{"s":3.99e8,"t":7.4e-8,"M":1.5e13},{"s":4.05e8,"t":5.8e-8,"M":9.9e13},
    {"s":4.02e8,"t":4.5e-8,"M":7e13},{"s":3.99e8,"t":3.5e-8,"M":4e13},{"s":4.05e8,"t":2.7e-8,"M":6.5e13},{"s":4.02e8,"t":2.05e-8,"M":2e13},
    {"s":3.99e8,"t":1.55e-8,"M":8.5e13},{"s":4.05e8,"t":1.16e-8,"M":3.5e13},{"s":4.02e8,"t":8.6e-9,"M":8e13},{"s":3.99e8,"t":6.3e-9,"M":1.5e13},
    {"s":4.05e8,"t":4.6e-9,"M":6e13},{"s":4.02e8,"t":3.35e-9,"M":9.9e13},{"s":3.99e8,"t":2.4e-9,"M":4.5e13},{"s":4.05e8,"t":1.75e-9,"M":7e13},
    {"s":4.02e8,"t":1.25e-9,"M":2e13},
    {"s":4.23e8,"t":2.15e-7,"M":5.5e13},{"s":4.29e8,"t":1.85e-7,"M":9e13},{"s":4.26e8,"t":1.55e-7,"M":1.5e13},{"s":4.23e8,"t":1.28e-7,"M":6.5e13},
    {"s":4.29e8,"t":1.05e-7,"M":4e13},{"s":4.26e8,"t":8.5e-8,"M":8.5e13},{"s":4.23e8,"t":6.8e-8,"M":2.5e13},{"s":4.29e8,"t":5.4e-8,"M":7.5e13},
    {"s":4.26e8,"t":4.2e-8,"M":5e13},{"s":4.23e8,"t":3.2e-8,"M":9.5e13},{"s":4.29e8,"t":2.5e-8,"M":1.5e13},{"s":4.26e8,"t":1.9e-8,"M":6e13},
    {"s":4.23e8,"t":1.45e-8,"M":3e13},{"s":4.29e8,"t":1.1e-8,"M":8e13},{"s":4.26e8,"t":8.2e-9,"M":5.5e13},{"s":4.23e8,"t":6.1e-9,"M":1.5e13},
    {"s":4.29e8,"t":4.5e-9,"M":9.9e13},{"s":4.26e8,"t":3.3e-9,"M":7e13},{"s":4.23e8,"t":2.35e-9,"M":4e13},{"s":4.29e8,"t":1.7e-9,"M":6.5e13},
    {"s":4.26e8,"t":1.2e-9,"M":2e13},{"s":4.23e8,"t":8.8e-10,"M":8.5e13},
    {"s":4.48e8,"t":1.85e-7,"M":3.5e13},{"s":4.56e8,"t":1.6e-7,"M":8e13},{"s":4.52e8,"t":1.35e-7,"M":1.5e13},{"s":4.48e8,"t":1.12e-7,"M":6e13},
    {"s":4.56e8,"t":9.2e-8,"M":9.9e13},{"s":4.52e8,"t":7.4e-8,"M":4.5e13},{"s":4.48e8,"t":5.9e-8,"M":7e13},{"s":4.56e8,"t":4.7e-8,"M":2e13},
    {"s":4.52e8,"t":3.7e-8,"M":5.5e13},{"s":4.48e8,"t":2.9e-8,"M":9e13},{"s":4.56e8,"t":2.25e-8,"M":1.5e13},{"s":4.52e8,"t":1.75e-8,"M":6.5e13},
    {"s":4.48e8,"t":1.33e-8,"M":4e13},{"s":4.56e8,"t":1.02e-8,"M":8.5e13},{"s":4.52e8,"t":7.7e-9,"M":2.5e13},{"s":4.48e8,"t":5.8e-9,"M":7.5e13},
    {"s":4.56e8,"t":4.3e-9,"M":5e13},{"s":4.52e8,"t":3.2e-9,"M":9.5e13},{"s":4.48e8,"t":2.3e-9,"M":1.5e13},{"s":4.56e8,"t":1.65e-9,"M":6e13},
    {"s":4.52e8,"t":1.2e-9,"M":3e13},{"s":4.48e8,"t":8.5e-10,"M":8e13},
    {"s":4.75e8,"t":1.65e-7,"M":5.5e13},{"s":4.83e8,"t":1.42e-7,"M":1.5e13},{"s":4.79e8,"t":1.2e-7,"M":9.9e13},{"s":4.75e8,"t":1e-7,"M":7e13},
    {"s":4.83e8,"t":8.3e-8,"M":4e13},{"s":4.79e8,"t":6.8e-8,"M":6.5e13},{"s":4.75e8,"t":5.5e-8,"M":2e13},{"s":4.83e8,"t":4.4e-8,"M":8.5e13},
    {"s":4.79e8,"t":3.5e-8,"M":3.5e13},{"s":4.75e8,"t":2.75e-8,"M":8e13},{"s":4.83e8,"t":2.15e-8,"M":1.5e13},{"s":4.79e8,"t":1.67e-8,"M":6e13},
    {"s":4.75e8,"t":1.28e-8,"M":9.9e13},{"s":4.83e8,"t":9.8e-9,"M":4.5e13},{"s":4.79e8,"t":7.4e-9,"M":7e13},{"s":4.75e8,"t":5.6e-9,"M":2e13},
    {"s":4.83e8,"t":4.2e-9,"M":5.5e13},{"s":4.79e8,"t":3.1e-9,"M":9e13},{"s":4.75e8,"t":2.3e-9,"M":1.5e13},{"s":4.83e8,"t":1.7e-9,"M":6.5e13},
    {"s":4.79e8,"t":1.22e-9,"M":4e13},{"s":4.75e8,"t":8.8e-10,"M":8.5e13},{"s":4.83e8,"t":6.3e-10,"M":2.5e13},
    {"s":5.03e8,"t":1.38e-7,"M":7.5e13},{"s":5.11e8,"t":1.2e-7,"M":5e13},{"s":5.07e8,"t":1.03e-7,"M":9.5e13},{"s":5.03e8,"t":8.7e-8,"M":1.5e13},
    {"s":5.11e8,"t":7.3e-8,"M":6e13},{"s":5.07e8,"t":6e-8,"M":3e13},{"s":5.03e8,"t":4.9e-8,"M":8e13},{"s":5.11e8,"t":4e-8,"M":5.5e13},
    {"s":5.07e8,"t":3.2e-8,"M":1.5e13},{"s":5.03e8,"t":2.55e-8,"M":9.9e13},{"s":5.11e8,"t":2e-8,"M":7e13},{"s":5.07e8,"t":1.56e-8,"M":4e13},
    {"s":5.03e8,"t":1.2e-8,"M":6.5e13},{"s":5.11e8,"t":9.3e-9,"M":2e13},{"s":5.07e8,"t":7.1e-9,"M":8.5e13},{"s":5.03e8,"t":5.4e-9,"M":3.5e13},
    {"s":5.11e8,"t":4.1e-9,"M":8e13},{"s":5.07e8,"t":3.05e-9,"M":1.5e13},{"s":5.03e8,"t":2.25e-9,"M":6e13},{"s":5.11e8,"t":1.65e-9,"M":9.9e13},
    {"s":5.07e8,"t":1.2e-9,"M":4.5e13},{"s":5.03e8,"t":8.7e-10,"M":7e13},{"s":5.11e8,"t":6.3e-10,"M":2e13},{"s":5.07e8,"t":4.5e-10,"M":5.5e13},
    {"s":5.34e8,"t":1.38e-7,"M":9e13},{"s":5.42e8,"t":1.18e-7,"M":1.5e13},{"s":5.38e8,"t":1e-7,"M":6.5e13},{"s":5.34e8,"t":8.4e-8,"M":4e13},
    {"s":5.42e8,"t":7e-8,"M":8.5e13},{"s":5.38e8,"t":5.8e-8,"M":2.5e13},{"s":5.34e8,"t":4.7e-8,"M":7.5e13},{"s":5.42e8,"t":3.8e-8,"M":5e13},
    {"s":5.38e8,"t":3.05e-8,"M":9.5e13},{"s":5.34e8,"t":2.42e-8,"M":1.5e13},{"s":5.42e8,"t":1.9e-8,"M":6e13},{"s":5.38e8,"t":1.48e-8,"M":3e13},
    {"s":5.34e8,"t":1.15e-8,"M":8e13},{"s":5.42e8,"t":8.9e-9,"M":5.5e13},{"s":5.38e8,"t":6.8e-9,"M":1.5e13},{"s":5.34e8,"t":5.2e-9,"M":9.9e13},
    {"s":5.42e8,"t":3.9e-9,"M":7e13},{"s":5.38e8,"t":2.95e-9,"M":4e13},{"s":5.34e8,"t":2.2e-9,"M":6.5e13},{"s":5.42e8,"t":1.62e-9,"M":2e13},
    {"s":5.38e8,"t":1.2e-9,"M":8.5e13},{"s":5.34e8,"t":8.8e-10,"M":3.5e13},{"s":5.42e8,"t":6.4e-10,"M":8e13},{"s":5.38e8,"t":4.6e-10,"M":1.5e13},
    {"s":5.34e8,"t":3.3e-10,"M":6e13},
    {"s":5.65e8,"t":1.18e-7,"M":9.9e13},{"s":5.75e8,"t":1.03e-7,"M":4.5e13},{"s":5.7e8,"t":8.8e-8,"M":7e13},{"s":5.65e8,"t":7.5e-8,"M":2e13},
    {"s":5.75e8,"t":6.3e-8,"M":5.5e13},{"s":5.7e8,"t":5.2e-8,"M":9e13},{"s":5.65e8,"t":4.3e-8,"M":1.5e13},{"s":5.75e8,"t":3.5e-8,"M":6.5e13},
    {"s":5.7e8,"t":2.8e-8,"M":4e13},{"s":5.65e8,"t":2.25e-8,"M":8.5e13},{"s":5.75e8,"t":1.78e-8,"M":2.5e13},{"s":5.7e8,"t":1.4e-8,"M":7.5e13},
    {"s":5.65e8,"t":1.1e-8,"M":5e13},{"s":5.75e8,"t":8.6e-9,"M":9.5e13},{"s":5.7e8,"t":6.6e-9,"M":1.5e13},{"s":5.65e8,"t":5.1e-9,"M":6e13},
    {"s":5.75e8,"t":3.9e-9,"M":3e13},{"s":5.7e8,"t":2.95e-9,"M":8e13},{"s":5.65e8,"t":2.2e-9,"M":5.5e13},{"s":5.75e8,"t":1.65e-9,"M":1.5e13},
    {"s":5.7e8,"t":1.22e-9,"M":9.9e13},{"s":5.65e8,"t":9e-10,"M":7e13},{"s":5.75e8,"t":6.6e-10,"M":4e13},{"s":5.7e8,"t":4.8e-10,"M":6.5e13},
    {"s":5.65e8,"t":3.5e-10,"M":2e13},{"s":5.75e8,"t":2.5e-10,"M":8.5e13},
    {"s":5.97e8,"t":1.1e-7,"M":3.5e13},{"s":6.07e8,"t":9.6e-8,"M":8e13},{"s":6.02e8,"t":8.2e-8,"M":1.5e13},{"s":5.97e8,"t":7e-8,"M":6e13},
    {"s":6.07e8,"t":5.9e-8,"M":9.9e13},{"s":6.02e8,"t":4.9e-8,"M":4.5e13},{"s":5.97e8,"t":4e-8,"M":7e13},{"s":6.07e8,"t":3.3e-8,"M":2e13},
    {"s":6.02e8,"t":2.65e-8,"M":5.5e13},{"s":5.97e8,"t":2.12e-8,"M":9e13},{"s":6.07e8,"t":1.68e-8,"M":1.5e13},{"s":6.02e8,"t":1.33e-8,"M":6.5e13},
    {"s":5.97e8,"t":1.04e-8,"M":4e13},{"s":6.07e8,"t":8.1e-9,"M":8.5e13},{"s":6.02e8,"t":6.3e-9,"M":2.5e13},{"s":5.97e8,"t":4.8e-9,"M":7.5e13},
    {"s":6.07e8,"t":3.7e-9,"M":5e13},{"s":6.02e8,"t":2.8e-9,"M":9.5e13},{"s":5.97e8,"t":2.1e-9,"M":1.5e13},{"s":6.07e8,"t":1.58e-9,"M":6e13},
    {"s":6.02e8,"t":1.18e-9,"M":3e13},{"s":5.97e8,"t":8.7e-10,"M":8e13},{"s":6.07e8,"t":6.4e-10,"M":5.5e13},{"s":6.02e8,"t":4.7e-10,"M":1.5e13},
    {"s":5.97e8,"t":3.4e-10,"M":9.9e13},{"s":6.07e8,"t":2.45e-10,"M":7e13},
    {"s":6.33e8,"t":8.9e-8,"M":4e13},{"s":6.43e8,"t":7.8e-8,"M":6.5e13},{"s":6.38e8,"t":6.8e-8,"M":2e13},{"s":6.33e8,"t":5.8e-8,"M":8.5e13},
    {"s":6.43e8,"t":4.9e-8,"M":3.5e13},{"s":6.38e8,"t":4.1e-8,"M":8e13},{"s":6.33e8,"t":3.4e-8,"M":1.5e13},{"s":6.43e8,"t":2.8e-8,"M":6e13},
    {"s":6.38e8,"t":2.28e-8,"M":9.9e13},{"s":6.33e8,"t":1.83e-8,"M":4.5e13},{"s":6.43e8,"t":1.46e-8,"M":7e13},{"s":6.38e8,"t":1.16e-8,"M":2e13},
    {"s":6.33e8,"t":9.1e-9,"M":5.5e13},{"s":6.43e8,"t":7.1e-9,"M":9e13},{"s":6.38e8,"t":5.5e-9,"M":1.5e13},{"s":6.33e8,"t":4.3e-9,"M":6.5e13},
    {"s":6.43e8,"t":3.3e-9,"M":4e13},{"s":6.38e8,"t":2.5e-9,"M":8.5e13},{"s":6.33e8,"t":1.9e-9,"M":2.5e13},{"s":6.43e8,"t":1.44e-9,"M":7.5e13},
    {"s":6.38e8,"t":1.08e-9,"M":5e13},{"s":6.33e8,"t":8e-10,"M":9.5e13},{"s":6.43e8,"t":5.9e-10,"M":1.5e13},{"s":6.38e8,"t":4.4e-10,"M":6e13},
    {"s":6.33e8,"t":3.2e-10,"M":3e13},{"s":6.43e8,"t":2.3e-10,"M":8e13},
    {"s":6.7e8,"t":7.7e-8,"M":5.5e13},{"s":6.8e8,"t":6.8e-8,"M":1.5e13},{"s":6.75e8,"t":5.9e-8,"M":9.9e13},{"s":6.7e8,"t":5.1e-8,"M":7e13},
    {"s":6.8e8,"t":4.3e-8,"M":4e13},{"s":6.75e8,"t":3.6e-8,"M":6.5e13},{"s":6.7e8,"t":3e-8,"M":2e13},{"s":6.8e8,"t":2.48e-8,"M":8.5e13},
    {"s":6.75e8,"t":2.02e-8,"M":3.5e13},{"s":6.7e8,"t":1.63e-8,"M":8e13},{"s":6.8e8,"t":1.31e-8,"M":1.5e13},{"s":6.75e8,"t":1.04e-8,"M":6e13},
    {"s":6.7e8,"t":8.2e-9,"M":9.9e13},{"s":6.8e8,"t":6.4e-9,"M":4.5e13},{"s":6.75e8,"t":5e-9,"M":7e13},{"s":6.7e8,"t":3.9e-9,"M":2e13},
    {"s":6.8e8,"t":3e-9,"M":5.5e13},{"s":6.75e8,"t":2.3e-9,"M":9e13},{"s":6.7e8,"t":1.75e-9,"M":1.5e13},{"s":6.8e8,"t":1.33e-9,"M":6.5e13},
    {"s":6.75e8,"t":1e-9,"M":4e13},{"s":6.7e8,"t":7.5e-10,"M":8.5e13},{"s":6.8e8,"t":5.6e-10,"M":2.5e13},{"s":6.75e8,"t":4.2e-10,"M":7.5e13},
    {"s":6.7e8,"t":3.1e-10,"M":5e13},{"s":6.8e8,"t":2.3e-10,"M":9.5e13},{"s":6.75e8,"t":1.7e-10,"M":1.5e13},
    {"s":7.06e8,"t":7.1e-8,"M":6e13},{"s":7.18e8,"t":6.3e-8,"M":3e13},{"s":7.12e8,"t":5.5e-8,"M":8e13},{"s":7.06e8,"t":4.7e-8,"M":5.5e13},
    {"s":7.18e8,"t":4e-8,"M":1.5e13},{"s":7.12e8,"t":3.35e-8,"M":9.9e13},{"s":7.06e8,"t":2.8e-8,"M":7e13},{"s":7.18e8,"t":2.3e-8,"M":4e13},
    {"s":7.12e8,"t":1.88e-8,"M":6.5e13},{"s":7.06e8,"t":1.52e-8,"M":2e13},{"s":7.18e8,"t":1.22e-8,"M":8.5e13},{"s":7.12e8,"t":9.7e-9,"M":3.5e13},
    {"s":7.06e8,"t":7.7e-9,"M":8e13},{"s":7.18e8,"t":6e-9,"M":1.5e13},{"s":7.12e8,"t":4.7e-9,"M":6e13},{"s":7.06e8,"t":3.65e-9,"M":9.9e13},
    {"s":7.18e8,"t":2.8e-9,"M":4.5e13},{"s":7.12e8,"t":2.15e-9,"M":7e13},{"s":7.06e8,"t":1.65e-9,"M":2e13},{"s":7.18e8,"t":1.25e-9,"M":5.5e13},
    {"s":7.12e8,"t":9.5e-10,"M":9e13},{"s":7.06e8,"t":7.1e-10,"M":1.5e13},{"s":7.18e8,"t":5.3e-10,"M":6.5e13},{"s":7.12e8,"t":4e-10,"M":4e13},
    {"s":7.06e8,"t":2.95e-10,"M":8.5e13},{"s":7.18e8,"t":2.2e-10,"M":2.5e13},{"s":7.12e8,"t":1.6e-10,"M":7.5e13},
    {"s":7.46e8,"t":6.6e-8,"M":5e13},{"s":7.58e8,"t":5.8e-8,"M":9.5e13},{"s":7.52e8,"t":5e-8,"M":1.5e13},{"s":7.46e8,"t":4.3e-8,"M":6e13},
    {"s":7.58e8,"t":3.65e-8,"M":3e13},{"s":7.52e8,"t":3.05e-8,"M":8e13},{"s":7.46e8,"t":2.55e-8,"M":5.5e13},{"s":7.58e8,"t":2.1e-8,"M":1.5e13},
    {"s":7.52e8,"t":1.72e-8,"M":9.9e13},{"s":7.46e8,"t":1.4e-8,"M":7e13},{"s":7.58e8,"t":1.13e-8,"M":4e13},{"s":7.52e8,"t":9e-9,"M":6.5e13},
    {"s":7.46e8,"t":7.1e-9,"M":2e13},{"s":7.58e8,"t":5.6e-9,"M":8.5e13},{"s":7.52e8,"t":4.4e-9,"M":3.5e13},{"s":7.46e8,"t":3.4e-9,"M":8e13},
    {"s":7.58e8,"t":2.6e-9,"M":1.5e13},{"s":7.52e8,"t":2e-9,"M":6e13},{"s":7.46e8,"t":1.52e-9,"M":9.9e13},{"s":7.58e8,"t":1.16e-9,"M":4.5e13},
    {"s":7.52e8,"t":8.8e-10,"M":7e13},{"s":7.46e8,"t":6.6e-10,"M":2e13},{"s":7.58e8,"t":5e-10,"M":5.5e13},{"s":7.52e8,"t":3.7e-10,"M":9e13},
    {"s":7.46e8,"t":2.75e-10,"M":1.5e13},{"s":7.58e8,"t":2e-10,"M":6.5e13},{"s":7.52e8,"t":1.5e-10,"M":4e13},
    {"s":7.86e8,"t":6.2e-8,"M":8.5e13},{"s":7.98e8,"t":5.4e-8,"M":2.5e13},{"s":7.92e8,"t":4.7e-8,"M":7.5e13},{"s":7.86e8,"t":4e-8,"M":5e13},
    {"s":7.98e8,"t":3.4e-8,"M":9.5e13},{"s":7.92e8,"t":2.85e-8,"M":1.5e13},{"s":7.86e8,"t":2.38e-8,"M":6e13},{"s":7.98e8,"t":1.97e-8,"M":3e13},
    {"s":7.92e8,"t":1.62e-8,"M":8e13},{"s":7.86e8,"t":1.32e-8,"M":5.5e13},{"s":7.98e8,"t":1.06e-8,"M":1.5e13},{"s":7.92e8,"t":8.5e-9,"M":9.9e13},
    {"s":7.86e8,"t":6.7e-9,"M":7e13},{"s":7.98e8,"t":5.3e-9,"M":4e13},{"s":7.92e8,"t":4.1e-9,"M":6.5e13},{"s":7.86e8,"t":3.2e-9,"M":2e13},
    {"s":7.98e8,"t":2.45e-9,"M":8.5e13},{"s":7.92e8,"t":1.88e-9,"M":3.5e13},{"s":7.86e8,"t":1.43e-9,"M":8e13},{"s":7.98e8,"t":1.09e-9,"M":1.5e13},
    {"s":7.92e8,"t":8.2e-10,"M":6e13},{"s":7.86e8,"t":6.2e-10,"M":9.9e13},{"s":7.98e8,"t":4.6e-10,"M":4.5e13},{"s":7.92e8,"t":3.4e-10,"M":7e13},
    {"s":7.86e8,"t":2.55e-10,"M":2e13},{"s":7.98e8,"t":1.9e-10,"M":5.5e13},{"s":7.92e8,"t":1.4e-10,"M":9e13},
    {"s":8.25e8,"t":5.5e-8,"M":1.5e13},{"s":8.39e8,"t":4.8e-8,"M":6.5e13},{"s":8.32e8,"t":4.2e-8,"M":4e13},{"s":8.25e8,"t":3.6e-8,"M":8.5e13},
    {"s":8.39e8,"t":3.05e-8,"M":2.5e13},{"s":8.32e8,"t":2.58e-8,"M":7.5e13},{"s":8.25e8,"t":2.16e-8,"M":5e13},{"s":8.39e8,"t":1.8e-8,"M":9.5e13},
    {"s":8.32e8,"t":1.48e-8,"M":1.5e13},{"s":8.25e8,"t":1.21e-8,"M":6e13},{"s":8.39e8,"t":9.8e-9,"M":3e13},{"s":8.32e8,"t":7.9e-9,"M":8e13},
    {"s":8.25e8,"t":6.3e-9,"M":5.5e13},{"s":8.39e8,"t":5e-9,"M":1.5e13},{"s":8.32e8,"t":3.9e-9,"M":9.9e13},{"s":8.25e8,"t":3e-9,"M":7e13},
    {"s":8.39e8,"t":2.35e-9,"M":4e13},{"s":8.32e8,"t":1.8e-9,"M":6.5e13},{"s":8.25e8,"t":1.38e-9,"M":2e13},{"s":8.39e8,"t":1.05e-9,"M":8.5e13},
    {"s":8.32e8,"t":8e-10,"M":3.5e13},{"s":8.25e8,"t":6e-10,"M":8e13},{"s":8.39e8,"t":4.5e-10,"M":1.5e13},{"s":8.32e8,"t":3.35e-10,"M":6e13},
    {"s":8.25e8,"t":2.5e-10,"M":9.9e13},{"s":8.39e8,"t":1.85e-10,"M":4.5e13},{"s":8.32e8,"t":1.38e-10,"M":7e13},
    {"s":8.65e8,"t":5e-8,"M":2e13},{"s":8.79e8,"t":4.4e-8,"M":5.5e13},{"s":8.72e8,"t":3.85e-8,"M":9e13},{"s":8.65e8,"t":3.3e-8,"M":1.5e13},
    {"s":8.79e8,"t":2.82e-8,"M":6.5e13},{"s":8.72e8,"t":2.4e-8,"M":4e13},{"s":8.65e8,"t":2.02e-8,"M":8.5e13},{"s":8.79e8,"t":1.68e-8,"M":2.5e13},
    {"s":8.72e8,"t":1.39e-8,"M":7.5e13},{"s":8.65e8,"t":1.14e-8,"M":5e13},{"s":8.79e8,"t":9.3e-9,"M":9.5e13},{"s":8.72e8,"t":7.5e-9,"M":1.5e13},
    {"s":8.65e8,"t":6e-9,"M":6e13},{"s":8.79e8,"t":4.8e-9,"M":3e13},{"s":8.72e8,"t":3.75e-9,"M":8e13},{"s":8.65e8,"t":2.9e-9,"M":5.5e13},
    {"s":8.79e8,"t":2.25e-9,"M":1.5e13},{"s":8.72e8,"t":1.73e-9,"M":9.9e13},{"s":8.65e8,"t":1.32e-9,"M":7e13},{"s":8.79e8,"t":1e-9,"M":4e13},
    {"s":8.72e8,"t":7.7e-10,"M":6.5e13},{"s":8.65e8,"t":5.8e-10,"M":2e13},{"s":8.79e8,"t":4.35e-10,"M":8.5e13},{"s":8.72e8,"t":3.25e-10,"M":3.5e13},
    {"s":8.65e8,"t":2.4e-10,"M":8e13},{"s":8.79e8,"t":1.78e-10,"M":1.5e13},{"s":8.72e8,"t":1.32e-10,"M":6e13},
    {"s":9.1e8,"t":4.6e-8,"M":9.9e13},{"s":9.24e8,"t":4.05e-8,"M":4.5e13},{"s":9.17e8,"t":3.55e-8,"M":7e13},{"s":9.1e8,"t":3.05e-8,"M":2e13},
    {"s":9.24e8,"t":2.6e-8,"M":5.5e13},{"s":9.17e8,"t":2.22e-8,"M":9e13},{"s":9.1e8,"t":1.88e-8,"M":1.5e13},{"s":9.24e8,"t":1.57e-8,"M":6.5e13},
    {"s":9.17e8,"t":1.3e-8,"M":4e13},{"s":9.1e8,"t":1.07e-8,"M":8.5e13},{"s":9.24e8,"t":8.8e-9,"M":2.5e13},{"s":9.17e8,"t":7.1e-9,"M":7.5e13},
    {"s":9.1e8,"t":5.7e-9,"M":5e13},{"s":9.24e8,"t":4.5e-9,"M":9.5e13},{"s":9.17e8,"t":3.55e-9,"M":1.5e13},{"s":9.1e8,"t":2.75e-9,"M":6e13},
    {"s":9.24e8,"t":2.12e-9,"M":3e13},{"s":9.17e8,"t":1.63e-9,"M":8e13},{"s":9.1e8,"t":1.25e-9,"M":5.5e13},{"s":9.24e8,"t":9.5e-10,"M":1.5e13},
    {"s":9.17e8,"t":7.2e-10,"M":9.9e13},{"s":9.1e8,"t":5.4e-10,"M":7e13},{"s":9.24e8,"t":4.1e-10,"M":4e13},{"s":9.17e8,"t":3.05e-10,"M":6.5e13},
    {"s":9.1e8,"t":2.25e-10,"M":2e13},{"s":9.24e8,"t":1.66e-10,"M":8.5e13},{"s":9.17e8,"t":1.22e-10,"M":3.5e13},
    {"s":9.55e8,"t":4.3e-8,"M":8e13},{"s":9.69e8,"t":3.8e-8,"M":1.5e13},{"s":9.62e8,"t":3.3e-8,"M":6e13},{"s":9.55e8,"t":2.85e-8,"M":9.9e13},
    {"s":9.69e8,"t":2.45e-8,"M":4.5e13},{"s":9.62e8,"t":2.1e-8,"M":7e13},{"s":9.55e8,"t":1.78e-8,"M":2e13},{"s":9.69e8,"t":1.5e-8,"M":5.5e13},
    {"s":9.62e8,"t":1.25e-8,"M":9e13},{"s":9.55e8,"t":1.03e-8,"M":1.5e13},{"s":9.69e8,"t":8.5e-9,"M":6.5e13},{"s":9.62e8,"t":6.9e-9,"M":4e13},
    {"s":9.55e8,"t":5.5e-9,"M":8.5e13},{"s":9.69e8,"t":4.4e-9,"M":2.5e13},{"s":9.62e8,"t":3.45e-9,"M":7.5e13},{"s":9.55e8,"t":2.7e-9,"M":5e13},
    {"s":9.69e8,"t":2.08e-9,"M":9.5e13},{"s":9.62e8,"t":1.6e-9,"M":1.5e13},{"s":9.55e8,"t":1.23e-9,"M":6e13},{"s":9.69e8,"t":9.3e-10,"M":3e13},
    {"s":9.62e8,"t":7e-10,"M":8e13},{"s":9.55e8,"t":5.3e-10,"M":5.5e13},{"s":9.69e8,"t":4e-10,"M":1.5e13},{"s":9.62e8,"t":3e-10,"M":9.9e13},
    {"s":9.55e8,"t":2.2e-10,"M":7e13},{"s":9.69e8,"t":1.62e-10,"M":4e13},{"s":9.62e8,"t":1.2e-10,"M":6.5e13}
  ]},
  "config": {
    "font": "DejaVu Sans",
    "view": {"stroke": null},
    "axis": {"labelColor": "black", "titleColor": "black", "tickColor": "black", "domainColor": "black", "titleFontWeight": "normal", "labelOverlap": false, "labelFlush": false, "labelFont": "DejaVu Sans", "titleFont": "DejaVu Sans"}
  },
  "hconcat": [
    {
      "width": 1189,
      "height": 1108,
      "layer": [
        {
          "mark": {"type": "circle", "size": 227, "opacity": 1},
          "encoding": {
            "x": {
              "field": "s", "type": "quantitative",
              "scale": {"type": "log", "domain": [8.94e7, 1.122e9], "nice": false},
              "axis": {
                "orient": "bottom",
                "values": [9e7, 1e8, 2e8, 3e8, 4e8, 5e8, 6e8, 7e8, 8e8, 9e8, 1e9],
                "labelExpr": "abs(log(datum.value)/LN10 - round(log(datum.value)/LN10)) < 0.01 ? (datum.value < 5e8 ? '10⁸' : '10⁹') : ''",
                "labelFontSize": 42, "labelPadding": 31,
                "grid": true, "gridColor": "#b0b0b0", "gridDash": [8, 3.5], "gridWidth": 2,
                "gridOpacity": {"condition": {"test": "abs(log(datum.value)/LN10 - round(log(datum.value)/LN10)) < 0.01", "value": 1}, "value": 0},
                "tickSize": {"condition": {"test": "abs(log(datum.value)/LN10 - round(log(datum.value)/LN10)) < 0.01", "value": -14}, "value": 8},
                "tickWidth": {"condition": {"test": "abs(log(datum.value)/LN10 - round(log(datum.value)/LN10)) < 0.01", "value": 3.3}, "value": 2.5},
                "domain": true, "domainWidth": 3.3,
                "title": "s (eV)", "titleFontSize": 50, "titlePadding": -7,
                "zindex": 1
              }
            },
            "y": {
              "field": "t", "type": "quantitative",
              "scale": {"type": "log", "domain": [3.2e-14, 7.8e-6], "nice": false},
              "axis": {
                "orient": "left",
                "values": [4e-14, 5e-14, 6e-14, 7e-14, 8e-14, 9e-14,
                  1e-13, 2e-13, 3e-13, 4e-13, 5e-13, 6e-13, 7e-13, 8e-13, 9e-13,
                  1e-12, 2e-12, 3e-12, 4e-12, 5e-12, 6e-12, 7e-12, 8e-12, 9e-12,
                  1e-11, 2e-11, 3e-11, 4e-11, 5e-11, 6e-11, 7e-11, 8e-11, 9e-11,
                  1e-10, 2e-10, 3e-10, 4e-10, 5e-10, 6e-10, 7e-10, 8e-10, 9e-10,
                  1e-9, 2e-9, 3e-9, 4e-9, 5e-9, 6e-9, 7e-9, 8e-9, 9e-9,
                  1e-8, 2e-8, 3e-8, 4e-8, 5e-8, 6e-8, 7e-8, 8e-8, 9e-8,
                  1e-7, 2e-7, 3e-7, 4e-7, 5e-7, 6e-7, 7e-7, 8e-7, 9e-7,
                  1e-6, 2e-6, 3e-6, 4e-6, 5e-6, 6e-6, 7e-6],
                "labelExpr": "abs(log(datum.value)/LN10 - round(log(datum.value)/LN10)) < 0.01 ? '10⁻' + (round(-log(datum.value)/LN10) >= 10 ? '¹' : '') + ['⁰','¹','²','³','⁴','⁵','⁶','⁷','⁸','⁹'][round(-log(datum.value)/LN10) % 10] : ''",
                "labelFontSize": 42, "labelPadding": 31,
                "grid": true, "gridColor": "#b0b0b0", "gridDash": [8, 3.5], "gridWidth": 2,
                "gridOpacity": {"condition": {"test": "abs(log(datum.value)/LN10 - round(log(datum.value)/LN10)) < 0.01", "value": 1}, "value": 0},
                "tickSize": {"condition": {"test": "abs(log(datum.value)/LN10 - round(log(datum.value)/LN10)) < 0.01", "value": -14}, "value": 8},
                "tickWidth": {"condition": {"test": "abs(log(datum.value)/LN10 - round(log(datum.value)/LN10)) < 0.01", "value": 3.3}, "value": 2.5},
                "domain": true, "domainWidth": 3.3,
                "title": "Sin²2θᴅᴍ", "titleFontSize": 50, "titleFontStyle": "italic", "titlePadding": 47,
                "zindex": 1
              }
            },
            "color": {
              "field": "M", "type": "quantitative",
              "scale": {"type": "linear", "domain": [1e13, 1e14], "range": ["#ff00ff", "#ffff00"], "interpolate": "rgb"},
              "legend": null
            }
          }
        },
        {
          "mark": {"type": "circle", "opacity": 0},
          "encoding": {
            "x": {
              "field": "s", "type": "quantitative",
              "scale": {"type": "log", "domain": [8.94e7, 1.122e9], "nice": false},
              "axis": {"orient": "top", "values": [1e8, 1e9], "labels": false, "grid": false, "tickSize": -14, "tickWidth": 3.3, "domain": true, "domainWidth": 3.3, "title": null, "zindex": 1}
            },
            "y": {
              "field": "t", "type": "quantitative",
              "scale": {"type": "log", "domain": [3.2e-14, 7.8e-6], "nice": false},
              "axis": {"orient": "right", "values": [1e-13, 1e-12, 1e-11, 1e-10, 1e-9, 1e-8, 1e-7, 1e-6], "labels": false, "grid": false, "tickSize": -14, "tickWidth": 3.3, "domain": true, "domainWidth": 3.3, "title": null, "zindex": 1}
            }
          }
        }
      ],
      "resolve": {"axis": {"x": "independent", "y": "independent"}}
    },
    {
      "width": 56,
      "height": 1108,
      "title": {"text": "1e13", "anchor": "end", "frame": "group", "fontSize": 48, "fontWeight": "normal", "font": "DejaVu Sans", "color": "black", "offset": 1},
      "mark": {
        "type": "rect",
        "fill": {"gradient": "linear", "x1": 0, "y1": 1, "x2": 0, "y2": 0,
          "stops": [{"offset": 0, "color": "#ff00ff"}, {"offset": 1, "color": "#ffff00"}]},
        "stroke": "black",
        "strokeWidth": 3.3
      },
      "encoding": {
        "x": {"value": 0},
        "x2": {"value": "width"},
        "y": {
          "aggregate": "min", "field": "M", "type": "quantitative",
          "scale": {"domain": [1e13, 1e14], "nice": false, "zero": false},
          "axis": {
            "orient": "right",
            "values": [2e13, 3e13, 4e13, 5e13, 6e13, 7e13, 8e13, 9e13],
            "labelExpr": "format(datum.value / 1e13, 'd')",
            "labelFontSize": 48, "labelPadding": 10,
            "tickSize": 14, "tickWidth": 3.3, "domain": false, "grid": false,
            "title": "M", "titleFontSize": 50, "titleFontStyle": "italic", "titleAngle": 270, "titlePadding": 40
          }
        },
        "y2": {"aggregate": "max", "field": "M"}
      }
    }
  ]
}
